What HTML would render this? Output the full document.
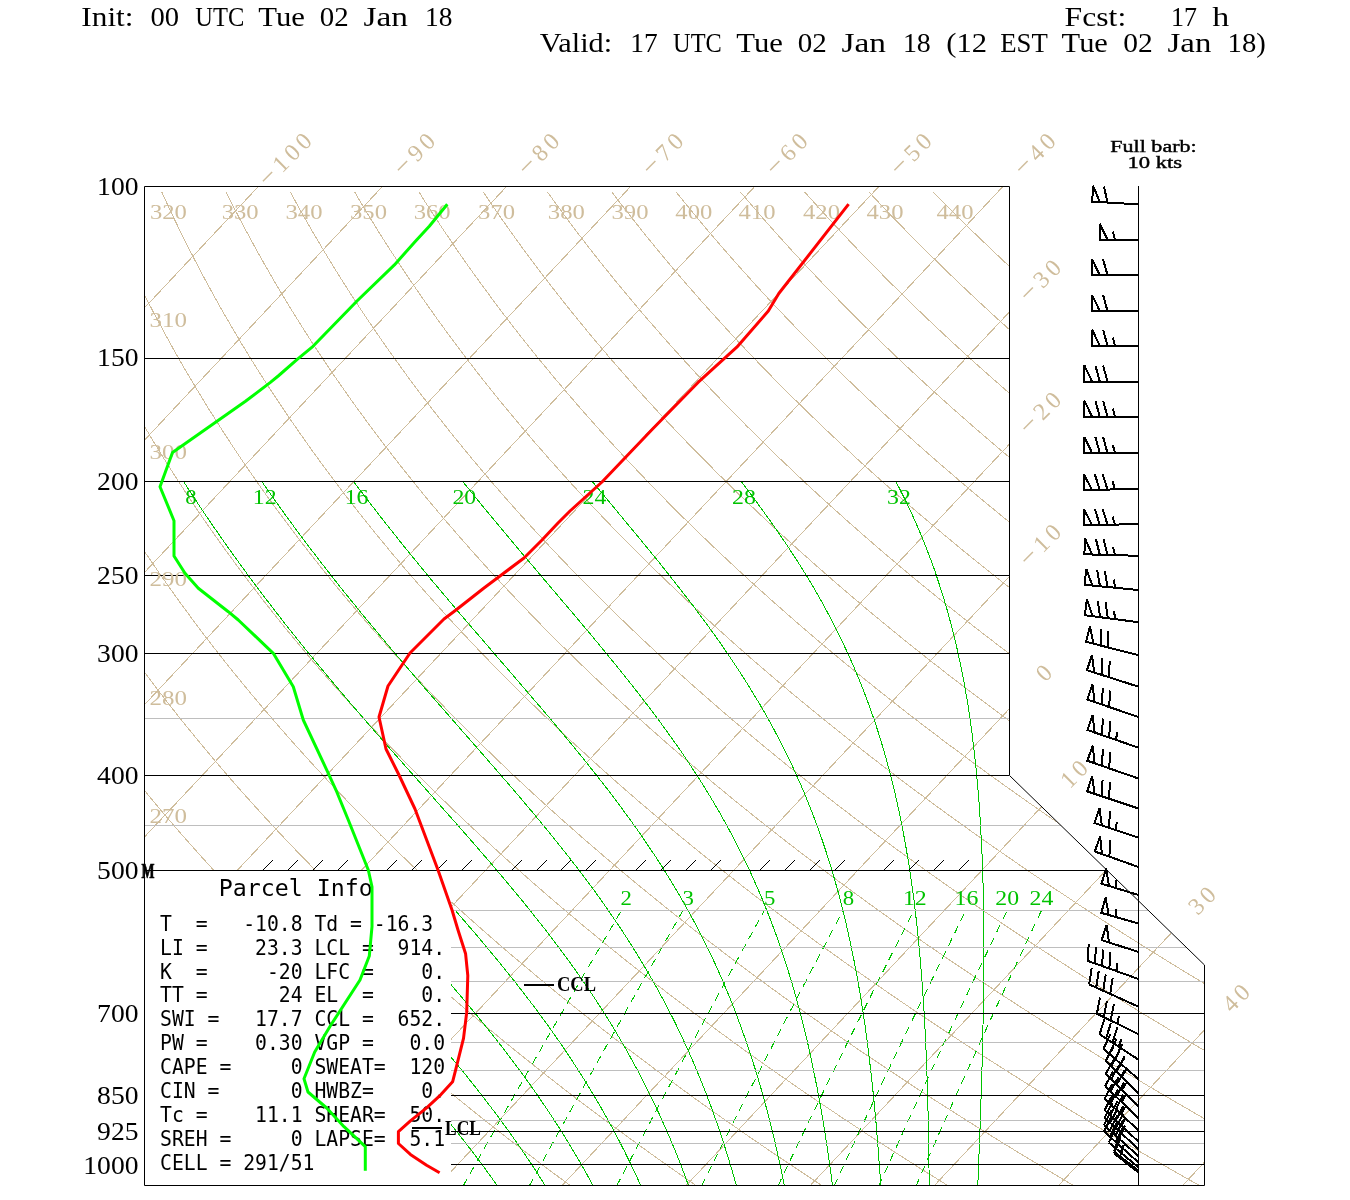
<!DOCTYPE html>
<html><head><meta charset="utf-8"><style>html,body{margin:0;padding:0;background:#fff;}svg{display:block;}</style></head>
<body><svg width="1350" height="1200" viewBox="0 0 1350 1200">
<rect width="1350" height="1200" fill="#fff"/>
<defs><clipPath id="c"><polygon points="144.5,186.5 1009.5,186.5 1009.5,775.5 1204.5,965 1204.5,1185.5 144.5,1185.5"/></clipPath></defs>
<g clip-path="url(#c)" fill="none" shape-rendering="crispEdges">
<g stroke="#cfbd9c" stroke-width="1"><polyline points="-1175.3,1185.5 -203.8,150"/><polyline points="-1051.2,1185.5 -79.7,150"/><polyline points="-927.1,1185.5 44.4,150"/><polyline points="-803,1185.5 168.5,150"/><polyline points="-678.9,1185.5 292.6,150"/><polyline points="-554.8,1185.5 416.7,150"/><polyline points="-430.7,1185.5 540.8,150"/><polyline points="-306.6,1185.5 664.9,150"/><polyline points="-182.5,1185.5 789,150"/><polyline points="-58.4,1185.5 913.1,150"/><polyline points="65.7,1185.5 1037.2,150"/><polyline points="189.8,1185.5 1161.3,150"/><polyline points="313.9,1185.5 1285.4,150"/><polyline points="438,1185.5 1409.5,150"/><polyline points="562.1,1185.5 1533.6,150"/><polyline points="686.2,1185.5 1657.7,150"/><polyline points="810.3,1185.5 1781.8,150"/><polyline points="934.4,1185.5 1905.9,150"/><polyline points="1058.5,1185.5 2030,150"/><polyline points="1182.6,1185.5 2154.1,150"/></g>
<g stroke="#cfbd9c" stroke-width="1"><polyline points="67.3,1186 58.8,1177.6 50.4,1169.3 42.1,1160.9 33.9,1152.6 25.8,1144.2 17.8,1135.9 9.9,1127.5 2.1,1119.2 -5.7,1110.8 -13.3,1102.5 -20.9,1094.1 -28.4,1085.8 -35.8,1077.4 -43.1,1069.1 -50.3,1060.7 -57.5,1052.4 -64.5,1044 -71.5,1035.6 -78.4,1027.3 -85.2,1018.9 -91.9,1010.6 -98.6,1002.2 -105.1,993.9 -111.6,985.5 -118,977.2 -124.3,968.8 -130.6,960.5 -136.7,952.1 -142.8,943.8 -148.8,935.4 -154.7,927.1 -160.6,918.7 -166.4,910.4 -172.1,902 -177.7,893.6 -183.2,885.3 -188.7,876.9 -194.1,868.6 -199.4,860.2 -204.6,851.9 -209.8,843.5 -214.9,835.2 -219.9,826.8 -224.9,818.5 -229.8,810.1 -234.6,801.8 -239.3,793.4 -244,785.1 -248.6,776.7 -253.1,768.4 -257.5,760 -261.9,751.6 -266.3,743.3 -270.5,734.9 -274.7,726.6 -278.8,718.2 -282.8,709.9 -286.8,701.5 -290.7,693.2 -294.6,684.8 -298.4,676.5 -302.1,668.1 -305.7,659.8 -309.3,651.4 -312.8,643.1 -316.3,634.7 -319.7,626.4 -323,618 -326.3,609.6 -329.5,601.3 -332.6,592.9 -335.7,584.6 -338.7,576.2 -341.7,567.9 -344.6,559.5 -347.4,551.2 -350.2,542.8 -352.9,534.5 -355.6,526.1 -358.2,517.8 -360.7,509.4 -363.2,501.1 -365.6,492.7 -368,484.4 -370.3,476 -372.6,467.6 -374.8,459.3 -376.9,450.9 -379,442.6 -381,434.2 -383,425.9 -384.9,417.5 -386.7,409.2 -388.6,400.8 -390.3,392.5 -392,384.1 -393.6,375.8 -395.2,367.4 -396.8,359.1 -398.3,350.7 -399.7,342.4 -401.1,334 -402.4,325.6 -403.7,317.3 -404.9,308.9 -406.1,300.6 -407.2,292.2 -408.3,283.9 -409.3,275.5 -410.3,267.2 -411.2,258.8 -412.1,250.5 -412.9,242.1 -413.7,233.8 -414.4,225.4 -415.1,217.1 -415.7,208.7 -416.3,200.4 -416.8,192"/><polyline points="193.2,1186 184,1177.6 174.9,1169.3 165.9,1160.9 157,1152.6 148.2,1144.2 139.5,1135.9 130.9,1127.5 122.4,1119.2 114,1110.8 105.6,1102.5 97.4,1094.1 89.3,1085.8 81.2,1077.4 73.2,1069.1 65.3,1060.7 57.5,1052.4 49.8,1044 42.2,1035.6 34.7,1027.3 27.2,1018.9 19.9,1010.6 12.6,1002.2 5.4,993.9 -1.7,985.5 -8.7,977.2 -15.6,968.8 -22.5,960.5 -29.2,952.1 -35.9,943.8 -42.5,935.4 -49.1,927.1 -55.5,918.7 -61.9,910.4 -68.2,902 -74.4,893.6 -80.5,885.3 -86.5,876.9 -92.5,868.6 -98.4,860.2 -104.2,851.9 -109.9,843.5 -115.6,835.2 -121.2,826.8 -126.7,818.5 -132.1,810.1 -137.5,801.8 -142.8,793.4 -148,785.1 -153.1,776.7 -158.2,768.4 -163.2,760 -168.1,751.6 -172.9,743.3 -177.7,734.9 -182.4,726.6 -187,718.2 -191.6,709.9 -196.1,701.5 -200.5,693.2 -204.9,684.8 -209.2,676.5 -213.4,668.1 -217.5,659.8 -221.6,651.4 -225.6,643.1 -229.6,634.7 -233.5,626.4 -237.3,618 -241,609.6 -244.7,601.3 -248.3,592.9 -251.9,584.6 -255.4,576.2 -258.8,567.9 -262.2,559.5 -265.5,551.2 -268.7,542.8 -271.9,534.5 -275,526.1 -278.1,517.8 -281,509.4 -284,501.1 -286.9,492.7 -289.7,484.4 -292.4,476 -295.1,467.6 -297.7,459.3 -300.3,450.9 -302.8,442.6 -305.3,434.2 -307.7,425.9 -310,417.5 -312.3,409.2 -314.5,400.8 -316.7,392.5 -318.8,384.1 -320.9,375.8 -322.9,367.4 -324.8,359.1 -326.7,350.7 -328.5,342.4 -330.3,334 -332,325.6 -333.7,317.3 -335.3,308.9 -336.9,300.6 -338.4,292.2 -339.9,283.9 -341.3,275.5 -342.6,267.2 -343.9,258.8 -345.2,250.5 -346.4,242.1 -347.5,233.8 -348.6,225.4 -349.7,217.1 -350.7,208.7 -351.6,200.4 -352.5,192"/><polyline points="319,1186 309.2,1177.6 299.4,1169.3 289.7,1160.9 280.1,1152.6 270.6,1144.2 261.2,1135.9 251.9,1127.5 242.7,1119.2 233.6,1110.8 224.6,1102.5 215.7,1094.1 206.9,1085.8 198.2,1077.4 189.5,1069.1 181,1060.7 172.6,1052.4 164.2,1044 155.9,1035.6 147.8,1027.3 139.7,1018.9 131.7,1010.6 123.8,1002.2 116,993.9 108.3,985.5 100.6,977.2 93.1,968.8 85.6,960.5 78.2,952.1 70.9,943.8 63.7,935.4 56.6,927.1 49.6,918.7 42.6,910.4 35.7,902 29,893.6 22.2,885.3 15.6,876.9 9.1,868.6 2.6,860.2 -3.8,851.9 -10.1,843.5 -16.3,835.2 -22.4,826.8 -28.5,818.5 -34.5,810.1 -40.4,801.8 -46.2,793.4 -52,785.1 -57.6,776.7 -63.2,768.4 -68.8,760 -74.2,751.6 -79.6,743.3 -84.9,734.9 -90.1,726.6 -95.3,718.2 -100.4,709.9 -105.4,701.5 -110.3,693.2 -115.2,684.8 -120,676.5 -124.7,668.1 -129.3,659.8 -133.9,651.4 -138.4,643.1 -142.9,634.7 -147.2,626.4 -151.5,618 -155.8,609.6 -159.9,601.3 -164,592.9 -168.1,584.6 -172,576.2 -175.9,567.9 -179.7,559.5 -183.5,551.2 -187.2,542.8 -190.8,534.5 -194.4,526.1 -197.9,517.8 -201.4,509.4 -204.7,501.1 -208.1,492.7 -211.3,484.4 -214.5,476 -217.6,467.6 -220.7,459.3 -223.7,450.9 -226.7,442.6 -229.5,434.2 -232.4,425.9 -235.1,417.5 -237.8,409.2 -240.5,400.8 -243.1,392.5 -245.6,384.1 -248.1,375.8 -250.5,367.4 -252.8,359.1 -255.1,350.7 -257.4,342.4 -259.5,334 -261.7,325.6 -263.7,317.3 -265.7,308.9 -267.7,300.6 -269.6,292.2 -271.5,283.9 -273.2,275.5 -275,267.2 -276.7,258.8 -278.3,250.5 -279.9,242.1 -281.4,233.8 -282.9,225.4 -284.3,217.1 -285.7,208.7 -287,200.4 -288.2,192"/><polyline points="444.9,1186 434.3,1177.6 423.8,1169.3 413.5,1160.9 403.2,1152.6 393,1144.2 382.9,1135.9 372.9,1127.5 363.1,1119.2 353.3,1110.8 343.6,1102.5 334,1094.1 324.5,1085.8 315.1,1077.4 305.9,1069.1 296.7,1060.7 287.6,1052.4 278.6,1044 269.7,1035.6 260.9,1027.3 252.1,1018.9 243.5,1010.6 235,1002.2 226.5,993.9 218.2,985.5 209.9,977.2 201.8,968.8 193.7,960.5 185.7,952.1 177.8,943.8 170,935.4 162.3,927.1 154.6,918.7 147.1,910.4 139.6,902 132.3,893.6 125,885.3 117.8,876.9 110.7,868.6 103.6,860.2 96.7,851.9 89.8,843.5 83,835.2 76.3,826.8 69.7,818.5 63.2,810.1 56.7,801.8 50.3,793.4 44,785.1 37.8,776.7 31.7,768.4 25.6,760 19.6,751.6 13.7,743.3 7.9,734.9 2.2,726.6 -3.5,718.2 -9.1,709.9 -14.6,701.5 -20.1,693.2 -25.5,684.8 -30.7,676.5 -36,668.1 -41.1,659.8 -46.2,651.4 -51.2,643.1 -56.1,634.7 -61,626.4 -65.8,618 -70.5,609.6 -75.1,601.3 -79.7,592.9 -84.2,584.6 -88.7,576.2 -93,567.9 -97.3,559.5 -101.6,551.2 -105.7,542.8 -109.8,534.5 -113.8,526.1 -117.8,517.8 -121.7,509.4 -125.5,501.1 -129.3,492.7 -133,484.4 -136.6,476 -140.2,467.6 -143.7,459.3 -147.1,450.9 -150.5,442.6 -153.8,434.2 -157.1,425.9 -160.2,417.5 -163.4,409.2 -166.4,400.8 -169.4,392.5 -172.4,384.1 -175.3,375.8 -178.1,367.4 -180.8,359.1 -183.5,350.7 -186.2,342.4 -188.8,334 -191.3,325.6 -193.8,317.3 -196.2,308.9 -198.5,300.6 -200.8,292.2 -203,283.9 -205.2,275.5 -207.3,267.2 -209.4,258.8 -211.4,250.5 -213.4,242.1 -215.3,233.8 -217.1,225.4 -218.9,217.1 -220.6,208.7 -222.3,200.4 -224,192"/><polyline points="570.8,1186 559.5,1177.6 548.3,1169.3 537.2,1160.9 526.2,1152.6 515.4,1144.2 504.6,1135.9 493.9,1127.5 483.4,1119.2 472.9,1110.8 462.6,1102.5 452.3,1094.1 442.2,1085.8 432.1,1077.4 422.2,1069.1 412.3,1060.7 402.6,1052.4 392.9,1044 383.4,1035.6 373.9,1027.3 364.6,1018.9 355.3,1010.6 346.2,1002.2 337.1,993.9 328.1,985.5 319.2,977.2 310.5,968.8 301.8,960.5 293.2,952.1 284.7,943.8 276.3,935.4 267.9,927.1 259.7,918.7 251.6,910.4 243.5,902 235.6,893.6 227.7,885.3 219.9,876.9 212.2,868.6 204.6,860.2 197.1,851.9 189.7,843.5 182.3,835.2 175.1,826.8 167.9,818.5 160.8,810.1 153.8,801.8 146.9,793.4 140,785.1 133.3,776.7 126.6,768.4 120,760 113.5,751.6 107.1,743.3 100.7,734.9 94.4,726.6 88.2,718.2 82.1,709.9 76.1,701.5 70.1,693.2 64.3,684.8 58.5,676.5 52.7,668.1 47.1,659.8 41.5,651.4 36,643.1 30.6,634.7 25.2,626.4 20,618 14.8,609.6 9.6,601.3 4.6,592.9 -0.4,584.6 -5.3,576.2 -10.1,567.9 -14.9,559.5 -19.6,551.2 -24.2,542.8 -28.8,534.5 -33.3,526.1 -37.7,517.8 -42,509.4 -46.3,501.1 -50.5,492.7 -54.6,484.4 -58.7,476 -62.7,467.6 -66.7,459.3 -70.5,450.9 -74.3,442.6 -78.1,434.2 -81.8,425.9 -85.4,417.5 -88.9,409.2 -92.4,400.8 -95.8,392.5 -99.2,384.1 -102.5,375.8 -105.7,367.4 -108.9,359.1 -112,350.7 -115,342.4 -118,334 -120.9,325.6 -123.8,317.3 -126.6,308.9 -129.3,300.6 -132,292.2 -134.6,283.9 -137.2,275.5 -139.7,267.2 -142.1,258.8 -144.5,250.5 -146.9,242.1 -149.1,233.8 -151.4,225.4 -153.5,217.1 -155.6,208.7 -157.7,200.4 -159.7,192"/><polyline points="696.7,1186 684.7,1177.6 672.8,1169.3 661,1160.9 649.3,1152.6 637.8,1144.2 626.3,1135.9 615,1127.5 603.7,1119.2 592.6,1110.8 581.5,1102.5 570.6,1094.1 559.8,1085.8 549.1,1077.4 538.5,1069.1 528,1060.7 517.6,1052.4 507.3,1044 497.1,1035.6 487,1027.3 477,1018.9 467.1,1010.6 457.3,1002.2 447.6,993.9 438.1,985.5 428.6,977.2 419.2,968.8 409.9,960.5 400.7,952.1 391.6,943.8 382.5,935.4 373.6,927.1 364.8,918.7 356.1,910.4 347.4,902 338.9,893.6 330.4,885.3 322.1,876.9 313.8,868.6 305.6,860.2 297.5,851.9 289.5,843.5 281.6,835.2 273.8,826.8 266.1,818.5 258.4,810.1 250.9,801.8 243.4,793.4 236,785.1 228.7,776.7 221.5,768.4 214.4,760 207.3,751.6 200.4,743.3 193.5,734.9 186.7,726.6 180,718.2 173.4,709.9 166.8,701.5 160.4,693.2 154,684.8 147.7,676.5 141.4,668.1 135.3,659.8 129.2,651.4 123.2,643.1 117.3,634.7 111.5,626.4 105.7,618 100,609.6 94.4,601.3 88.9,592.9 83.4,584.6 78.1,576.2 72.8,567.9 67.5,559.5 62.4,551.2 57.3,542.8 52.3,534.5 47.3,526.1 42.5,517.8 37.7,509.4 32.9,501.1 28.3,492.7 23.7,484.4 19.2,476 14.7,467.6 10.4,459.3 6.1,450.9 1.8,442.6 -2.3,434.2 -6.5,425.9 -10.5,417.5 -14.5,409.2 -18.4,400.8 -22.2,392.5 -26,384.1 -29.7,375.8 -33.3,367.4 -36.9,359.1 -40.4,350.7 -43.8,342.4 -47.2,334 -50.5,325.6 -53.8,317.3 -57,308.9 -60.1,300.6 -63.2,292.2 -66.2,283.9 -69.2,275.5 -72.1,267.2 -74.9,258.8 -77.6,250.5 -80.4,242.1 -83,233.8 -85.6,225.4 -88.1,217.1 -90.6,208.7 -93,200.4 -95.4,192"/><polyline points="822.6,1186 809.9,1177.6 797.3,1169.3 784.8,1160.9 772.4,1152.6 760.1,1144.2 748,1135.9 736,1127.5 724,1119.2 712.2,1110.8 700.5,1102.5 688.9,1094.1 677.5,1085.8 666.1,1077.4 654.8,1069.1 643.7,1060.7 632.6,1052.4 621.7,1044 610.8,1035.6 600.1,1027.3 589.5,1018.9 578.9,1010.6 568.5,1002.2 558.2,993.9 548,985.5 537.9,977.2 527.9,968.8 517.9,960.5 508.1,952.1 498.4,943.8 488.8,935.4 479.3,927.1 469.9,918.7 460.6,910.4 451.3,902 442.2,893.6 433.2,885.3 424.2,876.9 415.4,868.6 406.6,860.2 398,851.9 389.4,843.5 380.9,835.2 372.6,826.8 364.3,818.5 356.1,810.1 348,801.8 340,793.4 332,785.1 324.2,776.7 316.4,768.4 308.8,760 301.2,751.6 293.7,743.3 286.3,734.9 279,726.6 271.8,718.2 264.6,709.9 257.6,701.5 250.6,693.2 243.7,684.8 236.9,676.5 230.1,668.1 223.5,659.8 216.9,651.4 210.4,643.1 204,634.7 197.7,626.4 191.5,618 185.3,609.6 179.2,601.3 173.2,592.9 167.3,584.6 161.4,576.2 155.7,567.9 150,559.5 144.3,551.2 138.8,542.8 133.3,534.5 127.9,526.1 122.6,517.8 117.3,509.4 112.2,501.1 107.1,492.7 102,484.4 97.1,476 92.2,467.6 87.4,459.3 82.7,450.9 78,442.6 73.4,434.2 68.9,425.9 64.4,417.5 60,409.2 55.7,400.8 51.4,392.5 47.2,384.1 43.1,375.8 39.1,367.4 35.1,359.1 31.2,350.7 27.3,342.4 23.5,334 19.8,325.6 16.2,317.3 12.6,308.9 9.1,300.6 5.6,292.2 2.2,283.9 -1.1,275.5 -4.4,267.2 -7.6,258.8 -10.8,250.5 -13.8,242.1 -16.9,233.8 -19.8,225.4 -22.7,217.1 -25.6,208.7 -28.4,200.4 -31.1,192"/><polyline points="948.5,1186 935,1177.6 921.7,1169.3 908.5,1160.9 895.5,1152.6 882.5,1144.2 869.7,1135.9 857,1127.5 844.4,1119.2 831.9,1110.8 819.5,1102.5 807.2,1094.1 795.1,1085.8 783.1,1077.4 771.1,1069.1 759.3,1060.7 747.6,1052.4 736,1044 724.5,1035.6 713.2,1027.3 701.9,1018.9 690.8,1010.6 679.7,1002.2 668.8,993.9 657.9,985.5 647.2,977.2 636.6,968.8 626,960.5 615.6,952.1 605.3,943.8 595.1,935.4 585,927.1 575,918.7 565,910.4 555.2,902 545.5,893.6 535.9,885.3 526.4,876.9 517,868.6 507.6,860.2 498.4,851.9 489.3,843.5 480.3,835.2 471.3,826.8 462.5,818.5 453.7,810.1 445.1,801.8 436.5,793.4 428,785.1 419.6,776.7 411.4,768.4 403.2,760 395.1,751.6 387,743.3 379.1,734.9 371.3,726.6 363.5,718.2 355.9,709.9 348.3,701.5 340.8,693.2 333.4,684.8 326.1,676.5 318.8,668.1 311.7,659.8 304.6,651.4 297.7,643.1 290.8,634.7 283.9,626.4 277.2,618 270.6,609.6 264,601.3 257.5,592.9 251.1,584.6 244.8,576.2 238.5,567.9 232.4,559.5 226.3,551.2 220.3,542.8 214.4,534.5 208.5,526.1 202.7,517.8 197,509.4 191.4,501.1 185.9,492.7 180.4,484.4 175,476 169.7,467.6 164.4,459.3 159.2,450.9 154.1,442.6 149.1,434.2 144.2,425.9 139.3,417.5 134.5,409.2 129.7,400.8 125.1,392.5 120.5,384.1 115.9,375.8 111.5,367.4 107.1,359.1 102.8,350.7 98.5,342.4 94.3,334 90.2,325.6 86.1,317.3 82.2,308.9 78.2,300.6 74.4,292.2 70.6,283.9 66.9,275.5 63.2,267.2 59.6,258.8 56.1,250.5 52.7,242.1 49.3,233.8 45.9,225.4 42.7,217.1 39.4,208.7 36.3,200.4 33.2,192"/><polyline points="1074.4,1186 1060.2,1177.6 1046.2,1169.3 1032.3,1160.9 1018.6,1152.6 1004.9,1144.2 991.4,1135.9 978,1127.5 964.7,1119.2 951.5,1110.8 938.5,1102.5 925.5,1094.1 912.7,1085.8 900,1077.4 887.5,1069.1 875,1060.7 862.6,1052.4 850.4,1044 838.3,1035.6 826.3,1027.3 814.4,1018.9 802.6,1010.6 790.9,1002.2 779.3,993.9 767.9,985.5 756.5,977.2 745.3,968.8 734.1,960.5 723.1,952.1 712.2,943.8 701.3,935.4 690.6,927.1 680,918.7 669.5,910.4 659.1,902 648.8,893.6 638.6,885.3 628.5,876.9 618.5,868.6 608.6,860.2 598.9,851.9 589.2,843.5 579.6,835.2 570.1,826.8 560.7,818.5 551.4,810.1 542.2,801.8 533,793.4 524,785.1 515.1,776.7 506.3,768.4 497.6,760 488.9,751.6 480.4,743.3 471.9,734.9 463.6,726.6 455.3,718.2 447.1,709.9 439,701.5 431,693.2 423.1,684.8 415.3,676.5 407.5,668.1 399.9,659.8 392.3,651.4 384.9,643.1 377.5,634.7 370.2,626.4 363,618 355.8,609.6 348.8,601.3 341.8,592.9 334.9,584.6 328.1,576.2 321.4,567.9 314.8,559.5 308.3,551.2 301.8,542.8 295.4,534.5 289.1,526.1 282.9,517.8 276.7,509.4 270.6,501.1 264.6,492.7 258.7,484.4 252.9,476 247.1,467.6 241.4,459.3 235.8,450.9 230.3,442.6 224.8,434.2 219.5,425.9 214.2,417.5 208.9,409.2 203.8,400.8 198.7,392.5 193.7,384.1 188.7,375.8 183.8,367.4 179.1,359.1 174.3,350.7 169.7,342.4 165.1,334 160.6,325.6 156.1,317.3 151.7,308.9 147.4,300.6 143.2,292.2 139,283.9 134.9,275.5 130.9,267.2 126.9,258.8 123,250.5 119.2,242.1 115.4,233.8 111.7,225.4 108,217.1 104.5,208.7 101,200.4 97.5,192"/><polyline points="1200.2,1186 1185.4,1177.6 1170.7,1169.3 1156.1,1160.9 1141.6,1152.6 1127.3,1144.2 1113.1,1135.9 1099,1127.5 1085,1119.2 1071.2,1110.8 1057.4,1102.5 1043.8,1094.1 1030.4,1085.8 1017,1077.4 1003.8,1069.1 990.6,1060.7 977.6,1052.4 964.8,1044 952,1035.6 939.3,1027.3 926.8,1018.9 914.4,1010.6 902.1,1002.2 889.9,993.9 877.8,985.5 865.8,977.2 854,968.8 842.2,960.5 830.6,952.1 819,943.8 807.6,935.4 796.3,927.1 785.1,918.7 774,910.4 763,902 752.1,893.6 741.4,885.3 730.7,876.9 720.1,868.6 709.6,860.2 699.3,851.9 689,843.5 678.9,835.2 668.8,826.8 658.9,818.5 649,810.1 639.2,801.8 629.6,793.4 620,785.1 610.6,776.7 601.2,768.4 591.9,760 582.8,751.6 573.7,743.3 564.7,734.9 555.8,726.6 547,718.2 538.3,709.9 529.7,701.5 521.2,693.2 512.8,684.8 504.5,676.5 496.2,668.1 488.1,659.8 480,651.4 472.1,643.1 464.2,634.7 456.4,626.4 448.7,618 441.1,609.6 433.6,601.3 426.1,592.9 418.8,584.6 411.5,576.2 404.3,567.9 397.2,559.5 390.2,551.2 383.3,542.8 376.4,534.5 369.7,526.1 363,517.8 356.4,509.4 349.9,501.1 343.4,492.7 337.1,484.4 330.8,476 324.6,467.6 318.5,459.3 312.4,450.9 306.5,442.6 300.6,434.2 294.8,425.9 289,417.5 283.4,409.2 277.8,400.8 272.3,392.5 266.9,384.1 261.5,375.8 256.2,367.4 251,359.1 245.9,350.7 240.8,342.4 235.9,334 230.9,325.6 226.1,317.3 221.3,308.9 216.6,300.6 212,292.2 207.4,283.9 202.9,275.5 198.5,267.2 194.2,258.8 189.9,250.5 185.7,242.1 181.5,233.8 177.4,225.4 173.4,217.1 169.5,208.7 165.6,200.4 161.8,192"/><polyline points="1326.1,1186 1310.6,1177.6 1295.2,1169.3 1279.9,1160.9 1264.7,1152.6 1249.7,1144.2 1234.8,1135.9 1220,1127.5 1205.3,1119.2 1190.8,1110.8 1176.4,1102.5 1162.2,1094.1 1148,1085.8 1134,1077.4 1120.1,1069.1 1106.3,1060.7 1092.7,1052.4 1079.1,1044 1065.7,1035.6 1052.4,1027.3 1039.2,1018.9 1026.2,1010.6 1013.2,1002.2 1000.4,993.9 987.7,985.5 975.1,977.2 962.7,968.8 950.3,960.5 938,952.1 925.9,943.8 913.9,935.4 902,927.1 890.2,918.7 878.5,910.4 866.9,902 855.4,893.6 844.1,885.3 832.8,876.9 821.7,868.6 810.7,860.2 799.7,851.9 788.9,843.5 778.2,835.2 767.6,826.8 757,818.5 746.6,810.1 736.3,801.8 726.1,793.4 716,785.1 706,776.7 696.1,768.4 686.3,760 676.6,751.6 667,743.3 657.5,734.9 648.1,726.6 638.8,718.2 629.6,709.9 620.5,701.5 611.4,693.2 602.5,684.8 593.7,676.5 584.9,668.1 576.3,659.8 567.8,651.4 559.3,643.1 550.9,634.7 542.6,626.4 534.5,618 526.4,609.6 518.4,601.3 510.4,592.9 502.6,584.6 494.9,576.2 487.2,567.9 479.7,559.5 472.2,551.2 464.8,542.8 457.5,534.5 450.3,526.1 443.1,517.8 436.1,509.4 429.1,501.1 422.2,492.7 415.4,484.4 408.7,476 402,467.6 395.5,459.3 389,450.9 382.6,442.6 376.3,434.2 370.1,425.9 363.9,417.5 357.8,409.2 351.8,400.8 345.9,392.5 340.1,384.1 334.3,375.8 328.6,367.4 323,359.1 317.5,350.7 312,342.4 306.6,334 301.3,325.6 296.1,317.3 290.9,308.9 285.8,300.6 280.8,292.2 275.8,283.9 271,275.5 266.2,267.2 261.4,258.8 256.8,250.5 252.2,242.1 247.7,233.8 243.2,225.4 238.8,217.1 234.5,208.7 230.3,200.4 226.1,192"/><polyline points="1452,1186 1435.8,1177.6 1419.6,1169.3 1403.6,1160.9 1387.8,1152.6 1372.1,1144.2 1356.5,1135.9 1341,1127.5 1325.7,1119.2 1310.5,1110.8 1295.4,1102.5 1280.5,1094.1 1265.6,1085.8 1251,1077.4 1236.4,1069.1 1222,1060.7 1207.7,1052.4 1193.5,1044 1179.4,1035.6 1165.5,1027.3 1151.7,1018.9 1138,1010.6 1124.4,1002.2 1111,993.9 1097.6,985.5 1084.4,977.2 1071.3,968.8 1058.4,960.5 1045.5,952.1 1032.8,943.8 1020.2,935.4 1007.7,927.1 995.3,918.7 983,910.4 970.8,902 958.8,893.6 946.8,885.3 935,876.9 923.3,868.6 911.7,860.2 900.2,851.9 888.8,843.5 877.5,835.2 866.3,826.8 855.2,818.5 844.3,810.1 833.4,801.8 822.7,793.4 812,785.1 801.5,776.7 791,768.4 780.7,760 770.5,751.6 760.3,743.3 750.3,734.9 740.4,726.6 730.6,718.2 720.8,709.9 711.2,701.5 701.7,693.2 692.2,684.8 682.9,676.5 673.7,668.1 664.5,659.8 655.5,651.4 646.5,643.1 637.6,634.7 628.9,626.4 620.2,618 611.6,609.6 603.1,601.3 594.7,592.9 586.4,584.6 578.2,576.2 570.1,567.9 562.1,559.5 554.1,551.2 546.3,542.8 538.5,534.5 530.8,526.1 523.2,517.8 515.7,509.4 508.3,501.1 501,492.7 493.7,484.4 486.6,476 479.5,467.6 472.5,459.3 465.6,450.9 458.8,442.6 452,434.2 445.4,425.9 438.8,417.5 432.3,409.2 425.9,400.8 419.5,392.5 413.3,384.1 407.1,375.8 401,367.4 395,359.1 389,350.7 383.2,342.4 377.4,334 371.7,325.6 366,317.3 360.5,308.9 355,300.6 349.6,292.2 344.3,283.9 339,275.5 333.8,267.2 328.7,258.8 323.7,250.5 318.7,242.1 313.8,233.8 309,225.4 304.2,217.1 299.5,208.7 294.9,200.4 290.4,192"/><polyline points="1577.9,1186 1560.9,1177.6 1544.1,1169.3 1527.4,1160.9 1510.9,1152.6 1494.4,1144.2 1478.2,1135.9 1462,1127.5 1446,1119.2 1430.1,1110.8 1414.4,1102.5 1398.8,1094.1 1383.3,1085.8 1367.9,1077.4 1352.7,1069.1 1337.6,1060.7 1322.7,1052.4 1307.9,1044 1293.1,1035.6 1278.6,1027.3 1264.1,1018.9 1249.8,1010.6 1235.6,1002.2 1221.5,993.9 1207.6,985.5 1193.8,977.2 1180,968.8 1166.5,960.5 1153,952.1 1139.7,943.8 1126.4,935.4 1113.3,927.1 1100.3,918.7 1087.5,910.4 1074.7,902 1062.1,893.6 1049.5,885.3 1037.1,876.9 1024.8,868.6 1012.7,860.2 1000.6,851.9 988.6,843.5 976.8,835.2 965.1,826.8 953.4,818.5 941.9,810.1 930.5,801.8 919.2,793.4 908,785.1 896.9,776.7 886,768.4 875.1,760 864.3,751.6 853.7,743.3 843.1,734.9 832.7,726.6 822.3,718.2 812.1,709.9 801.9,701.5 791.9,693.2 781.9,684.8 772.1,676.5 762.4,668.1 752.7,659.8 743.2,651.4 733.7,643.1 724.4,634.7 715.1,626.4 706,618 696.9,609.6 687.9,601.3 679.1,592.9 670.3,584.6 661.6,576.2 653,567.9 644.5,559.5 636.1,551.2 627.8,542.8 619.6,534.5 611.4,526.1 603.4,517.8 595.4,509.4 587.6,501.1 579.8,492.7 572.1,484.4 564.5,476 557,467.6 549.5,459.3 542.2,450.9 534.9,442.6 527.8,434.2 520.7,425.9 513.7,417.5 506.8,409.2 499.9,400.8 493.2,392.5 486.5,384.1 479.9,375.8 473.4,367.4 467,359.1 460.6,350.7 454.3,342.4 448.2,334 442,325.6 436,317.3 430.1,308.9 424.2,300.6 418.4,292.2 412.7,283.9 407,275.5 401.5,267.2 396,258.8 390.5,250.5 385.2,242.1 379.9,233.8 374.7,225.4 369.6,217.1 364.6,208.7 359.6,200.4 354.7,192"/><polyline points="1703.8,1186 1686.1,1177.6 1668.6,1169.3 1651.2,1160.9 1633.9,1152.6 1616.8,1144.2 1599.8,1135.9 1583,1127.5 1566.3,1119.2 1549.8,1110.8 1533.4,1102.5 1517.1,1094.1 1500.9,1085.8 1484.9,1077.4 1469,1069.1 1453.3,1060.7 1437.7,1052.4 1422.2,1044 1406.9,1035.6 1391.7,1027.3 1376.6,1018.9 1361.6,1010.6 1346.8,1002.2 1332.1,993.9 1317.5,985.5 1303.1,977.2 1288.7,968.8 1274.5,960.5 1260.5,952.1 1246.5,943.8 1232.7,935.4 1219,927.1 1205.4,918.7 1191.9,910.4 1178.6,902 1165.4,893.6 1152.3,885.3 1139.3,876.9 1126.4,868.6 1113.7,860.2 1101,851.9 1088.5,843.5 1076.1,835.2 1063.8,826.8 1051.6,818.5 1039.6,810.1 1027.6,801.8 1015.8,793.4 1004,785.1 992.4,776.7 980.9,768.4 969.5,760 958.2,751.6 947,743.3 935.9,734.9 924.9,726.6 914.1,718.2 903.3,709.9 892.7,701.5 882.1,693.2 871.7,684.8 861.3,676.5 851.1,668.1 840.9,659.8 830.9,651.4 820.9,643.1 811.1,634.7 801.3,626.4 791.7,618 782.2,609.6 772.7,601.3 763.4,592.9 754.1,584.6 745,576.2 735.9,567.9 726.9,559.5 718.1,551.2 709.3,542.8 700.6,534.5 692,526.1 683.5,517.8 675.1,509.4 666.8,501.1 658.6,492.7 650.4,484.4 642.4,476 634.4,467.6 626.6,459.3 618.8,450.9 611.1,442.6 603.5,434.2 596,425.9 588.6,417.5 581.2,409.2 574,400.8 566.8,392.5 559.7,384.1 552.7,375.8 545.8,367.4 538.9,359.1 532.2,350.7 525.5,342.4 518.9,334 512.4,325.6 506,317.3 499.6,308.9 493.4,300.6 487.2,292.2 481.1,283.9 475,275.5 469.1,267.2 463.2,258.8 457.4,250.5 451.7,242.1 446.1,233.8 440.5,225.4 435,217.1 429.6,208.7 424.2,200.4 419,192"/><polyline points="1829.7,1186 1811.3,1177.6 1793,1169.3 1775,1160.9 1757,1152.6 1739.2,1144.2 1721.5,1135.9 1704,1127.5 1686.6,1119.2 1669.4,1110.8 1652.3,1102.5 1635.4,1094.1 1618.6,1085.8 1601.9,1077.4 1585.4,1069.1 1569,1060.7 1552.7,1052.4 1536.6,1044 1520.6,1035.6 1504.7,1027.3 1489,1018.9 1473.4,1010.6 1458,1002.2 1442.6,993.9 1427.4,985.5 1412.4,977.2 1397.4,968.8 1382.6,960.5 1368,952.1 1353.4,943.8 1339,935.4 1324.7,927.1 1310.5,918.7 1296.4,910.4 1282.5,902 1268.7,893.6 1255,885.3 1241.4,876.9 1228,868.6 1214.7,860.2 1201.5,851.9 1188.4,843.5 1175.4,835.2 1162.6,826.8 1149.8,818.5 1137.2,810.1 1124.7,801.8 1112.3,793.4 1100,785.1 1087.9,776.7 1075.8,768.4 1063.9,760 1052,751.6 1040.3,743.3 1028.7,734.9 1017.2,726.6 1005.8,718.2 994.6,709.9 983.4,701.5 972.3,693.2 961.4,684.8 950.5,676.5 939.8,668.1 929.1,659.8 918.6,651.4 908.1,643.1 897.8,634.7 887.6,626.4 877.5,618 867.4,609.6 857.5,601.3 847.7,592.9 837.9,584.6 828.3,576.2 818.8,567.9 809.4,559.5 800,551.2 790.8,542.8 781.6,534.5 772.6,526.1 763.6,517.8 754.8,509.4 746,501.1 737.3,492.7 728.8,484.4 720.3,476 711.9,467.6 703.6,459.3 695.4,450.9 687.3,442.6 679.2,434.2 671.3,425.9 663.4,417.5 655.7,409.2 648,400.8 640.4,392.5 632.9,384.1 625.5,375.8 618.2,367.4 610.9,359.1 603.8,350.7 596.7,342.4 589.7,334 582.8,325.6 576,317.3 569.2,308.9 562.6,300.6 556,292.2 549.5,283.9 543.1,275.5 536.7,267.2 530.5,258.8 524.3,250.5 518.2,242.1 512.2,233.8 506.3,225.4 500.4,217.1 494.6,208.7 488.9,200.4 483.3,192"/><polyline points="1955.6,1186 1936.5,1177.6 1917.5,1169.3 1898.7,1160.9 1880.1,1152.6 1861.6,1144.2 1843.2,1135.9 1825,1127.5 1807,1119.2 1789.1,1110.8 1771.3,1102.5 1753.7,1094.1 1736.2,1085.8 1718.9,1077.4 1701.7,1069.1 1684.6,1060.7 1667.7,1052.4 1650.9,1044 1634.3,1035.6 1617.8,1027.3 1601.5,1018.9 1585.2,1010.6 1569.1,1002.2 1553.2,993.9 1537.4,985.5 1521.7,977.2 1506.1,968.8 1490.7,960.5 1475.4,952.1 1460.3,943.8 1445.2,935.4 1430.3,927.1 1415.6,918.7 1400.9,910.4 1386.4,902 1372,893.6 1357.7,885.3 1343.6,876.9 1329.6,868.6 1315.7,860.2 1301.9,851.9 1288.2,843.5 1274.7,835.2 1261.3,826.8 1248,818.5 1234.8,810.1 1221.8,801.8 1208.8,793.4 1196,785.1 1183.3,776.7 1170.7,768.4 1158.3,760 1145.9,751.6 1133.7,743.3 1121.5,734.9 1109.5,726.6 1097.6,718.2 1085.8,709.9 1074.1,701.5 1062.5,693.2 1051.1,684.8 1039.7,676.5 1028.5,668.1 1017.3,659.8 1006.3,651.4 995.4,643.1 984.5,634.7 973.8,626.4 963.2,618 952.7,609.6 942.3,601.3 932,592.9 921.8,584.6 911.7,576.2 901.7,567.9 891.8,559.5 882,551.2 872.3,542.8 862.7,534.5 853.2,526.1 843.8,517.8 834.5,509.4 825.2,501.1 816.1,492.7 807.1,484.4 798.2,476 789.4,467.6 780.6,459.3 772,450.9 763.4,442.6 755,434.2 746.6,425.9 738.3,417.5 730.1,409.2 722,400.8 714,392.5 706.1,384.1 698.3,375.8 690.6,367.4 682.9,359.1 675.3,350.7 667.9,342.4 660.5,334 653.2,325.6 645.9,317.3 638.8,308.9 631.8,300.6 624.8,292.2 617.9,283.9 611.1,275.5 604.4,267.2 597.7,258.8 591.2,250.5 584.7,242.1 578.3,233.8 572,225.4 565.8,217.1 559.6,208.7 553.5,200.4 547.5,192"/><polyline points="2081.5,1186 2061.6,1177.6 2042,1169.3 2022.5,1160.9 2003.2,1152.6 1984,1144.2 1964.9,1135.9 1946,1127.5 1927.3,1119.2 1908.7,1110.8 1890.3,1102.5 1872,1094.1 1853.8,1085.8 1835.8,1077.4 1818,1069.1 1800.3,1060.7 1782.7,1052.4 1765.3,1044 1748,1035.6 1730.9,1027.3 1713.9,1018.9 1697,1010.6 1680.3,1002.2 1663.8,993.9 1647.3,985.5 1631,977.2 1614.8,968.8 1598.8,960.5 1582.9,952.1 1567.1,943.8 1551.5,935.4 1536,927.1 1520.6,918.7 1505.4,910.4 1490.3,902 1475.3,893.6 1460.5,885.3 1445.7,876.9 1431.1,868.6 1416.7,860.2 1402.3,851.9 1388.1,843.5 1374,835.2 1360.1,826.8 1346.2,818.5 1332.5,810.1 1318.9,801.8 1305.4,793.4 1292,785.1 1278.8,776.7 1265.7,768.4 1252.6,760 1239.8,751.6 1227,743.3 1214.3,734.9 1201.8,726.6 1189.4,718.2 1177,709.9 1164.8,701.5 1152.8,693.2 1140.8,684.8 1128.9,676.5 1117.2,668.1 1105.5,659.8 1094,651.4 1082.6,643.1 1071.3,634.7 1060,626.4 1048.9,618 1038,609.6 1027.1,601.3 1016.3,592.9 1005.6,584.6 995,576.2 984.6,567.9 974.2,559.5 963.9,551.2 953.8,542.8 943.7,534.5 933.8,526.1 923.9,517.8 914.1,509.4 904.5,501.1 894.9,492.7 885.5,484.4 876.1,476 866.8,467.6 857.6,459.3 848.6,450.9 839.6,442.6 830.7,434.2 821.9,425.9 813.2,417.5 804.6,409.2 796.1,400.8 787.7,392.5 779.3,384.1 771.1,375.8 762.9,367.4 754.9,359.1 746.9,350.7 739,342.4 731.2,334 723.5,325.6 715.9,317.3 708.4,308.9 700.9,300.6 693.6,292.2 686.3,283.9 679.1,275.5 672,267.2 665,258.8 658.1,250.5 651.2,242.1 644.5,233.8 637.8,225.4 631.2,217.1 624.6,208.7 618.2,200.4 611.8,192"/><polyline points="2207.3,1186 2186.8,1177.6 2166.5,1169.3 2146.3,1160.9 2126.2,1152.6 2106.3,1144.2 2086.6,1135.9 2067,1127.5 2047.6,1119.2 2028.4,1110.8 2009.3,1102.5 1990.3,1094.1 1971.5,1085.8 1952.8,1077.4 1934.3,1069.1 1916,1060.7 1897.7,1052.4 1879.7,1044 1861.8,1035.6 1844,1027.3 1826.3,1018.9 1808.9,1010.6 1791.5,1002.2 1774.3,993.9 1757.2,985.5 1740.3,977.2 1723.5,968.8 1706.9,960.5 1690.4,952.1 1674,943.8 1657.8,935.4 1641.7,927.1 1625.7,918.7 1609.9,910.4 1594.2,902 1578.6,893.6 1563.2,885.3 1547.9,876.9 1532.7,868.6 1517.7,860.2 1502.8,851.9 1488,843.5 1473.3,835.2 1458.8,826.8 1444.4,818.5 1430.1,810.1 1416,801.8 1401.9,793.4 1388,785.1 1374.2,776.7 1360.6,768.4 1347,760 1333.6,751.6 1320.3,743.3 1307.1,734.9 1294.1,726.6 1281.1,718.2 1268.3,709.9 1255.6,701.5 1243,693.2 1230.5,684.8 1218.1,676.5 1205.9,668.1 1193.7,659.8 1181.7,651.4 1169.8,643.1 1158,634.7 1146.3,626.4 1134.7,618 1123.2,609.6 1111.9,601.3 1100.6,592.9 1089.4,584.6 1078.4,576.2 1067.5,567.9 1056.6,559.5 1045.9,551.2 1035.3,542.8 1024.8,534.5 1014.3,526.1 1004,517.8 993.8,509.4 983.7,501.1 973.7,492.7 963.8,484.4 954,476 944.3,467.6 934.7,459.3 925.2,450.9 915.7,442.6 906.4,434.2 897.2,425.9 888.1,417.5 879.1,409.2 870.1,400.8 861.3,392.5 852.5,384.1 843.9,375.8 835.3,367.4 826.9,359.1 818.5,350.7 810.2,342.4 802,334 793.9,325.6 785.9,317.3 778,308.9 770.1,300.6 762.4,292.2 754.7,283.9 747.2,275.5 739.7,267.2 732.3,258.8 725,250.5 717.7,242.1 710.6,233.8 703.5,225.4 696.6,217.1 689.7,208.7 682.9,200.4 676.1,192"/><polyline points="2333.2,1186 2312,1177.6 2290.9,1169.3 2270,1160.9 2249.3,1152.6 2228.7,1144.2 2208.3,1135.9 2188.1,1127.5 2168,1119.2 2148,1110.8 2128.2,1102.5 2108.6,1094.1 2089.1,1085.8 2069.8,1077.4 2050.6,1069.1 2031.6,1060.7 2012.8,1052.4 1994,1044 1975.5,1035.6 1957.1,1027.3 1938.8,1018.9 1920.7,1010.6 1902.7,1002.2 1884.9,993.9 1867.2,985.5 1849.6,977.2 1832.2,968.8 1815,960.5 1797.9,952.1 1780.9,943.8 1764,935.4 1747.4,927.1 1730.8,918.7 1714.4,910.4 1698.1,902 1681.9,893.6 1665.9,885.3 1650,876.9 1634.3,868.6 1618.7,860.2 1603.2,851.9 1587.9,843.5 1572.6,835.2 1557.6,826.8 1542.6,818.5 1527.8,810.1 1513.1,801.8 1498.5,793.4 1484,785.1 1469.7,776.7 1455.5,768.4 1441.4,760 1427.5,751.6 1413.6,743.3 1399.9,734.9 1386.3,726.6 1372.9,718.2 1359.5,709.9 1346.3,701.5 1333.2,693.2 1320.2,684.8 1307.3,676.5 1294.6,668.1 1281.9,659.8 1269.4,651.4 1257,643.1 1244.7,634.7 1232.5,626.4 1220.4,618 1208.5,609.6 1196.6,601.3 1184.9,592.9 1173.3,584.6 1161.8,576.2 1150.3,567.9 1139,559.5 1127.9,551.2 1116.8,542.8 1105.8,534.5 1094.9,526.1 1084.2,517.8 1073.5,509.4 1062.9,501.1 1052.5,492.7 1042.1,484.4 1031.9,476 1021.7,467.6 1011.7,459.3 1001.7,450.9 991.9,442.6 982.2,434.2 972.5,425.9 963,417.5 953.5,409.2 944.2,400.8 934.9,392.5 925.7,384.1 916.7,375.8 907.7,367.4 898.8,359.1 890.1,350.7 881.4,342.4 872.8,334 864.3,325.6 855.9,317.3 847.5,308.9 839.3,300.6 831.2,292.2 823.1,283.9 815.2,275.5 807.3,267.2 799.5,258.8 791.8,250.5 784.2,242.1 776.7,233.8 769.3,225.4 761.9,217.1 754.7,208.7 747.5,200.4 740.4,192"/><polyline points="2459.1,1186 2437.2,1177.6 2415.4,1169.3 2393.8,1160.9 2372.4,1152.6 2351.1,1144.2 2330,1135.9 2309.1,1127.5 2288.3,1119.2 2267.7,1110.8 2247.2,1102.5 2226.9,1094.1 2206.8,1085.8 2186.8,1077.4 2167,1069.1 2147.3,1060.7 2127.8,1052.4 2108.4,1044 2089.2,1035.6 2070.1,1027.3 2051.2,1018.9 2032.5,1010.6 2013.9,1002.2 1995.4,993.9 1977.1,985.5 1958.9,977.2 1940.9,968.8 1923.1,960.5 1905.3,952.1 1887.8,943.8 1870.3,935.4 1853,927.1 1835.9,918.7 1818.9,910.4 1802,902 1785.3,893.6 1768.7,885.3 1752.2,876.9 1735.9,868.6 1719.7,860.2 1703.6,851.9 1687.7,843.5 1671.9,835.2 1656.3,826.8 1640.8,818.5 1625.4,810.1 1610.1,801.8 1595,793.4 1580,785.1 1565.2,776.7 1550.4,768.4 1535.8,760 1521.3,751.6 1507,743.3 1492.7,734.9 1478.6,726.6 1464.6,718.2 1450.8,709.9 1437,701.5 1423.4,693.2 1409.9,684.8 1396.5,676.5 1383.3,668.1 1370.1,659.8 1357.1,651.4 1344.2,643.1 1331.4,634.7 1318.7,626.4 1306.2,618 1293.7,609.6 1281.4,601.3 1269.2,592.9 1257.1,584.6 1245.1,576.2 1233.2,567.9 1221.5,559.5 1209.8,551.2 1198.3,542.8 1186.8,534.5 1175.5,526.1 1164.3,517.8 1153.2,509.4 1142.2,501.1 1131.3,492.7 1120.5,484.4 1109.8,476 1099.2,467.6 1088.7,459.3 1078.3,450.9 1068.1,442.6 1057.9,434.2 1047.8,425.9 1037.8,417.5 1028,409.2 1018.2,400.8 1008.5,392.5 999,384.1 989.5,375.8 980.1,367.4 970.8,359.1 961.6,350.7 952.5,342.4 943.5,334 934.6,325.6 925.8,317.3 917.1,308.9 908.5,300.6 900,292.2 891.6,283.9 883.2,275.5 875,267.2 866.8,258.8 858.7,250.5 850.7,242.1 842.9,233.8 835.1,225.4 827.3,217.1 819.7,208.7 812.2,200.4 804.7,192"/><polyline points="2585,1186 2562.4,1177.6 2539.9,1169.3 2517.6,1160.9 2495.5,1152.6 2473.5,1144.2 2451.7,1135.9 2430.1,1127.5 2408.6,1119.2 2387.3,1110.8 2366.2,1102.5 2345.2,1094.1 2324.4,1085.8 2303.8,1077.4 2283.3,1069.1 2262.9,1060.7 2242.8,1052.4 2222.8,1044 2202.9,1035.6 2183.2,1027.3 2163.7,1018.9 2144.3,1010.6 2125.1,1002.2 2106,993.9 2087,985.5 2068.3,977.2 2049.6,968.8 2031.1,960.5 2012.8,952.1 1994.6,943.8 1976.6,935.4 1958.7,927.1 1940.9,918.7 1923.3,910.4 1905.9,902 1888.6,893.6 1871.4,885.3 1854.4,876.9 1837.5,868.6 1820.7,860.2 1804.1,851.9 1787.6,843.5 1771.3,835.2 1755,826.8 1739,818.5 1723,810.1 1707.2,801.8 1691.6,793.4 1676,785.1 1660.6,776.7 1645.3,768.4 1630.2,760 1615.2,751.6 1600.3,743.3 1585.5,734.9 1570.9,726.6 1556.4,718.2 1542,709.9 1527.8,701.5 1513.6,693.2 1499.6,684.8 1485.7,676.5 1472,668.1 1458.3,659.8 1444.8,651.4 1431.4,643.1 1418.1,634.7 1405,626.4 1391.9,618 1379,609.6 1366.2,601.3 1353.5,592.9 1340.9,584.6 1328.5,576.2 1316.1,567.9 1303.9,559.5 1291.8,551.2 1279.8,542.8 1267.9,534.5 1256.1,526.1 1244.4,517.8 1232.9,509.4 1221.4,501.1 1210.1,492.7 1198.8,484.4 1187.7,476 1176.7,467.6 1165.7,459.3 1154.9,450.9 1144.2,442.6 1133.6,434.2 1123.1,425.9 1112.7,417.5 1102.4,409.2 1092.2,400.8 1082.1,392.5 1072.2,384.1 1062.3,375.8 1052.5,367.4 1042.8,359.1 1033.2,350.7 1023.7,342.4 1014.3,334 1005,325.6 995.8,317.3 986.7,308.9 977.7,300.6 968.8,292.2 960,283.9 951.2,275.5 942.6,267.2 934.1,258.8 925.6,250.5 917.3,242.1 909,233.8 900.8,225.4 892.7,217.1 884.7,208.7 876.8,200.4 869,192"/><polyline points="2710.9,1186 2687.5,1177.6 2664.4,1169.3 2641.4,1160.9 2618.5,1152.6 2595.9,1144.2 2573.4,1135.9 2551.1,1127.5 2528.9,1119.2 2507,1110.8 2485.2,1102.5 2463.5,1094.1 2442,1085.8 2420.7,1077.4 2399.6,1069.1 2378.6,1060.7 2357.8,1052.4 2337.1,1044 2316.6,1035.6 2296.3,1027.3 2276.1,1018.9 2256.1,1010.6 2236.2,1002.2 2216.5,993.9 2197,985.5 2177.6,977.2 2158.3,968.8 2139.2,960.5 2120.3,952.1 2101.5,943.8 2082.9,935.4 2064.4,927.1 2046,918.7 2027.8,910.4 2009.8,902 1991.9,893.6 1974.1,885.3 1956.5,876.9 1939,868.6 1921.7,860.2 1904.5,851.9 1887.5,843.5 1870.6,835.2 1853.8,826.8 1837.2,818.5 1820.7,810.1 1804.3,801.8 1788.1,793.4 1772,785.1 1756.1,776.7 1740.3,768.4 1724.6,760 1709,751.6 1693.6,743.3 1678.3,734.9 1663.2,726.6 1648.2,718.2 1633.3,709.9 1618.5,701.5 1603.8,693.2 1589.3,684.8 1574.9,676.5 1560.7,668.1 1546.5,659.8 1532.5,651.4 1518.6,643.1 1504.9,634.7 1491.2,626.4 1477.7,618 1464.3,609.6 1451,601.3 1437.8,592.9 1424.8,584.6 1411.8,576.2 1399,567.9 1386.3,559.5 1373.7,551.2 1361.3,542.8 1348.9,534.5 1336.7,526.1 1324.5,517.8 1312.5,509.4 1300.6,501.1 1288.8,492.7 1277.2,484.4 1265.6,476 1254.1,467.6 1242.8,459.3 1231.5,450.9 1220.4,442.6 1209.3,434.2 1198.4,425.9 1187.6,417.5 1176.9,409.2 1166.3,400.8 1155.8,392.5 1145.4,384.1 1135.1,375.8 1124.9,367.4 1114.8,359.1 1104.8,350.7 1094.9,342.4 1085.1,334 1075.4,325.6 1065.8,317.3 1056.3,308.9 1046.9,300.6 1037.6,292.2 1028.4,283.9 1019.3,275.5 1010.2,267.2 1001.3,258.8 992.5,250.5 983.8,242.1 975.1,233.8 966.6,225.4 958.1,217.1 949.8,208.7 941.5,200.4 933.3,192"/></g>
<g stroke="#00c300" stroke-width="1"><polyline points="401,1186 398.1,1182.5 395.1,1179 392.1,1175.5 389.1,1172 386.1,1168.5 383.1,1165 380.1,1161.6 377,1158.1 374,1154.6 370.9,1151.1 367.8,1147.6 364.7,1144.1 361.6,1140.6 358.4,1137.1 355.3,1133.6 352.1,1130.1 349,1126.6 345.8,1123.1 342.6,1119.6 339.4,1116.2 336.2,1112.7 333,1109.2 329.8,1105.7 326.6,1102.2 323.3,1098.7 320.1,1095.2 316.9,1091.7 313.6,1088.2 310.3,1084.7 307.1,1081.2 303.8,1077.7 300.5,1074.2 297.3,1070.8 294,1067.3 290.7,1063.8 287.4,1060.3 284.2,1056.8 280.9,1053.3 277.6,1049.8 274.3,1046.3 271,1042.8 267.7,1039.3 264.5,1035.8 261.2,1032.3 257.9,1028.8 254.6,1025.3 251.4,1021.9 248.1,1018.4 244.8,1014.9 241.6,1011.4 238.3,1007.9 235.1,1004.4 231.8,1000.9 228.6,997.4 225.3,993.9 222.1,990.4 218.9,986.9 215.6,983.4 212.4,979.9 209.2,976.5 206,973 202.8,969.5 199.6,966 196.5,962.5 193.3,959 190.1,955.5 187,952 183.8,948.5 180.7,945 177.6,941.5 174.5,938 171.4,934.5 168.3,931.1 165.2,927.6 162.1,924.1 159.1,920.6 156,917.1 153,913.6 149.9,910.1"/><polyline points="449.4,1186 446.6,1182.5 443.9,1179 441.1,1175.5 438.4,1172 435.6,1168.5 432.7,1165 429.9,1161.6 427,1158.1 424.2,1154.6 421.3,1151.1 418.4,1147.6 415.4,1144.1 412.5,1140.6 409.5,1137.1 406.6,1133.6 403.6,1130.1 400.6,1126.6 397.6,1123.1 394.5,1119.6 391.5,1116.2 388.4,1112.7 385.4,1109.2 382.3,1105.7 379.2,1102.2 376.1,1098.7 372.9,1095.2 369.8,1091.7 366.7,1088.2 363.5,1084.7 360.3,1081.2 357.2,1077.7 354,1074.2 350.8,1070.8 347.6,1067.3 344.4,1063.8 341.2,1060.3 338,1056.8 334.8,1053.3 331.5,1049.8 328.3,1046.3 325.1,1042.8 321.8,1039.3 318.6,1035.8 315.3,1032.3 312.1,1028.8 308.8,1025.3 305.6,1021.9 302.3,1018.4 299.1,1014.9 295.8,1011.4 292.5,1007.9 289.3,1004.4 286,1000.9 282.8,997.4 279.5,993.9 276.3,990.4 273,986.9 269.8,983.4 266.5,979.9 263.3,976.5 260.1,973 256.8,969.5 253.6,966 250.4,962.5 247.2,959 244,955.5 240.8,952 237.6,948.5 234.4,945 231.2,941.5 228,938 224.9,934.5 221.7,931.1 218.6,927.6 215.4,924.1 212.3,920.6 209.1,917.1 206,913.6 202.9,910.1"/><polyline points="497.5,1186 495,1182.5 492.5,1179 490,1175.5 487.5,1172 484.9,1168.5 482.4,1165 479.8,1161.6 477.2,1158.1 474.5,1154.6 471.9,1151.1 469.2,1147.6 466.5,1144.1 463.8,1140.6 461,1137.1 458.3,1133.6 455.5,1130.1 452.7,1126.6 449.9,1123.1 447.1,1119.6 444.3,1116.2 441.4,1112.7 438.5,1109.2 435.6,1105.7 432.7,1102.2 429.8,1098.7 426.8,1095.2 423.9,1091.7 420.9,1088.2 417.9,1084.7 414.9,1081.2 411.9,1077.7 408.9,1074.2 405.8,1070.8 402.8,1067.3 399.7,1063.8 396.6,1060.3 393.5,1056.8 390.4,1053.3 387.3,1049.8 384.2,1046.3 381,1042.8 377.9,1039.3 374.7,1035.8 371.6,1032.3 368.4,1028.8 365.2,1025.3 362,1021.9 358.8,1018.4 355.6,1014.9 352.4,1011.4 349.2,1007.9 346,1004.4 342.8,1000.9 339.6,997.4 336.4,993.9 333.2,990.4 329.9,986.9 326.7,983.4 323.5,979.9 320.2,976.5 317,973 313.8,969.5 310.6,966 307.3,962.5 304.1,959 300.9,955.5 297.7,952 294.4,948.5 291.2,945 288,941.5 284.8,938 281.6,934.5 278.4,931.1 275.2,927.6 272,924.1 268.8,920.6 265.6,917.1 262.5,913.6 259.3,910.1"/><polyline points="545.4,1186 543.2,1182.5 541,1179 538.8,1175.5 536.6,1172 534.3,1168.5 532,1165 529.7,1161.6 527.3,1158.1 525,1154.6 522.6,1151.1 520.2,1147.6 517.8,1144.1 515.3,1140.6 512.9,1137.1 510.4,1133.6 507.9,1130.1 505.4,1126.6 502.8,1123.1 500.2,1119.6 497.7,1116.2 495.1,1112.7 492.4,1109.2 489.8,1105.7 487.1,1102.2 484.4,1098.7 481.7,1095.2 479,1091.7 476.2,1088.2 473.5,1084.7 470.7,1081.2 467.9,1077.7 465.1,1074.2 462.3,1070.8 459.4,1067.3 456.5,1063.8 453.6,1060.3 450.7,1056.8 447.8,1053.3 444.9,1049.8 441.9,1046.3 439,1042.8 436,1039.3 433,1035.8 430,1032.3 427,1028.8 423.9,1025.3 420.9,1021.9 417.8,1018.4 414.8,1014.9 411.7,1011.4 408.6,1007.9 405.5,1004.4 402.4,1000.9 399.3,997.4 396.1,993.9 393,990.4 389.9,986.9 386.7,983.4 383.6,979.9 380.4,976.5 377.2,973 374.1,969.5 370.9,966 367.7,962.5 364.5,959 361.3,955.5 358.1,952 354.9,948.5 351.7,945 348.5,941.5 345.3,938 342.1,934.5 338.9,931.1 335.7,927.6 332.5,924.1 329.3,920.6 326.1,917.1 322.9,913.6 319.7,910.1"/><polyline points="593.2,1186 591.4,1182.5 589.4,1179 587.5,1175.5 585.6,1172 583.6,1168.5 581.6,1165 579.6,1161.6 577.6,1158.1 575.5,1154.6 573.4,1151.1 571.4,1147.6 569.2,1144.1 567.1,1140.6 565,1137.1 562.8,1133.6 560.6,1130.1 558.4,1126.6 556.1,1123.1 553.9,1119.6 551.6,1116.2 549.3,1112.7 546.9,1109.2 544.6,1105.7 542.2,1102.2 539.8,1098.7 537.4,1095.2 535,1091.7 532.5,1088.2 530.1,1084.7 527.6,1081.2 525.1,1077.7 522.5,1074.2 520,1070.8 517.4,1067.3 514.8,1063.8 512.2,1060.3 509.5,1056.8 506.9,1053.3 504.2,1049.8 501.5,1046.3 498.8,1042.8 496,1039.3 493.3,1035.8 490.5,1032.3 487.7,1028.8 484.9,1025.3 482.1,1021.9 479.2,1018.4 476.4,1014.9 473.5,1011.4 470.6,1007.9 467.7,1004.4 464.8,1000.9 461.9,997.4 458.9,993.9 455.9,990.4 453,986.9 450,983.4 447,979.9 443.9,976.5 440.9,973 437.9,969.5 434.8,966 431.7,962.5 428.7,959 425.6,955.5 422.5,952 419.4,948.5 416.3,945 413.2,941.5 410.1,938 406.9,934.5 403.8,931.1 400.7,927.6 397.5,924.1 394.4,920.6 391.2,917.1 388,913.6 384.9,910.1"/><polyline points="641,1186 639.4,1182.5 637.8,1179 636.2,1175.5 634.6,1172 632.9,1168.5 631.2,1165 629.5,1161.6 627.8,1158.1 626.1,1154.6 624.4,1151.1 622.6,1147.6 620.8,1144.1 619,1140.6 617.2,1137.1 615.3,1133.6 613.5,1130.1 611.6,1126.6 609.7,1123.1 607.8,1119.6 605.8,1116.2 603.9,1112.7 601.9,1109.2 599.9,1105.7 597.8,1102.2 595.8,1098.7 593.7,1095.2 591.6,1091.7 589.5,1088.2 587.4,1084.7 585.2,1081.2 583,1077.7 580.8,1074.2 578.6,1070.8 576.4,1067.3 574.1,1063.8 571.8,1060.3 569.5,1056.8 567.2,1053.3 564.8,1049.8 562.5,1046.3 560.1,1042.8 557.6,1039.3 555.2,1035.8 552.7,1032.3 550.3,1028.8 547.8,1025.3 545.2,1021.9 542.7,1018.4 540.1,1014.9 537.6,1011.4 535,1007.9 532.3,1004.4 529.7,1000.9 527,997.4 524.3,993.9 521.6,990.4 518.9,986.9 516.2,983.4 513.4,979.9 510.6,976.5 507.8,973 505,969.5 502.2,966 499.4,962.5 496.5,959 493.6,955.5 490.7,952 487.8,948.5 484.9,945 482,941.5 479,938 476.1,934.5 473.1,931.1 470.1,927.6 467.1,924.1 464.1,920.6 461.1,917.1 458,913.6 455,910.1"/><polyline points="688.7,1186 685.4,1177.1 682.1,1168.2 678.6,1159.2 675,1150.3 671.3,1141.4 667.5,1132.5 663.5,1123.5 659.5,1114.6 655.3,1105.7 651,1096.8 646.6,1087.8 642,1078.9 637.4,1070 632.5,1061.1 627.6,1052.1 622.5,1043.2 617.2,1034.3 611.9,1025.4 606.3,1016.4 600.7,1007.5 594.9,998.6 588.9,989.7 582.8,980.7 576.6,971.8 570.2,962.9 563.7,954 557,945.1 550.3,936.1 543.4,927.2 536.3,918.3 529.2,909.4 522,900.4 514.6,891.5 507.2,882.6 499.7,873.7 492.1,864.7 484.4,855.8 476.7,846.9 468.9,838 461.1,829 453.2,820.1 445.3,811.2 437.4,802.3 429.5,793.3 421.6,784.4 413.7,775.5 405.8,766.6 397.9,757.6 390,748.7 382.2,739.8 374.4,730.9 366.6,721.9 358.9,713 351.2,704.1 343.6,695.2 336.1,686.3 328.6,677.3 321.2,668.4 313.8,659.5 306.5,650.6 299.3,641.6 292.2,632.7 285.1,623.8 278.2,614.9 271.3,605.9 264.4,597 257.7,588.1 251,579.2 244.5,570.2 238,561.3 231.6,552.4 225.2,543.5 219,534.5 212.8,525.6 206.7,516.7 200.7,507.8 194.8,498.8 189,489.9 183.3,481"/><polyline points="736.5,1186 734,1177.1 731.4,1168.2 728.7,1159.2 725.9,1150.3 723.1,1141.4 720.1,1132.5 717.1,1123.5 713.9,1114.6 710.7,1105.7 707.3,1096.8 703.9,1087.8 700.3,1078.9 696.6,1070 692.8,1061.1 688.9,1052.1 684.8,1043.2 680.7,1034.3 676.4,1025.4 671.9,1016.4 667.3,1007.5 662.6,998.6 657.8,989.7 652.8,980.7 647.6,971.8 642.3,962.9 636.9,954 631.3,945.1 625.6,936.1 619.8,927.2 613.7,918.3 607.6,909.4 601.3,900.4 594.9,891.5 588.3,882.6 581.6,873.7 574.8,864.7 567.8,855.8 560.8,846.9 553.6,838 546.4,829 539,820.1 531.6,811.2 524.1,802.3 516.5,793.3 508.8,784.4 501.1,775.5 493.4,766.6 485.6,757.6 477.8,748.7 470,739.8 462.2,730.9 454.4,721.9 446.6,713 438.8,704.1 431,695.2 423.2,686.3 415.5,677.3 407.8,668.4 400.2,659.5 392.6,650.6 385.1,641.6 377.6,632.7 370.2,623.8 362.8,614.9 355.5,605.9 348.3,597 341.1,588.1 334.1,579.2 327.1,570.2 320.1,561.3 313.3,552.4 306.5,543.5 299.8,534.5 293.2,525.6 286.7,516.7 280.3,507.8 273.9,498.8 267.6,489.9 261.4,481"/><polyline points="784.5,1186 782.6,1177.1 780.8,1168.2 778.8,1159.2 776.8,1150.3 774.8,1141.4 772.6,1132.5 770.4,1123.5 768.1,1114.6 765.8,1105.7 763.3,1096.8 760.8,1087.8 758.2,1078.9 755.5,1070 752.6,1061.1 749.7,1052.1 746.7,1043.2 743.6,1034.3 740.4,1025.4 737.1,1016.4 733.7,1007.5 730.1,998.6 726.4,989.7 722.6,980.7 718.7,971.8 714.7,962.9 710.5,954 706.1,945.1 701.7,936.1 697.1,927.2 692.3,918.3 687.4,909.4 682.4,900.4 677.2,891.5 671.9,882.6 666.4,873.7 660.8,864.7 655,855.8 649,846.9 643,838 636.8,829 630.4,820.1 623.9,811.2 617.3,802.3 610.6,793.3 603.7,784.4 596.7,775.5 589.6,766.6 582.5,757.6 575.2,748.7 567.8,739.8 560.4,730.9 552.9,721.9 545.4,713 537.8,704.1 530.1,695.2 522.5,686.3 514.8,677.3 507.1,668.4 499.4,659.5 491.7,650.6 484,641.6 476.3,632.7 468.6,623.8 461,614.9 453.4,605.9 445.9,597 438.4,588.1 430.9,579.2 423.5,570.2 416.2,561.3 408.9,552.4 401.7,543.5 394.6,534.5 387.5,525.6 380.5,516.7 373.6,507.8 366.7,498.8 359.9,489.9 353.2,481"/><polyline points="832.5,1186 831.4,1177.1 830.2,1168.2 828.9,1159.2 827.6,1150.3 826.3,1141.4 824.9,1132.5 823.4,1123.5 821.9,1114.6 820.4,1105.7 818.8,1096.8 817.1,1087.8 815.3,1078.9 813.5,1070 811.7,1061.1 809.7,1052.1 807.7,1043.2 805.6,1034.3 803.4,1025.4 801.2,1016.4 798.8,1007.5 796.4,998.6 793.9,989.7 791.2,980.7 788.5,971.8 785.7,962.9 782.8,954 779.7,945.1 776.6,936.1 773.3,927.2 769.9,918.3 766.4,909.4 762.8,900.4 759,891.5 755.1,882.6 751.1,873.7 746.9,864.7 742.6,855.8 738.1,846.9 733.5,838 728.7,829 723.8,820.1 718.8,811.2 713.6,802.3 708.2,793.3 702.7,784.4 697,775.5 691.2,766.6 685.3,757.6 679.2,748.7 672.9,739.8 666.5,730.9 660,721.9 653.4,713 646.6,704.1 639.8,695.2 632.8,686.3 625.7,677.3 618.5,668.4 611.3,659.5 604,650.6 596.6,641.6 589.2,632.7 581.7,623.8 574.2,614.9 566.6,605.9 559,597 551.5,588.1 543.9,579.2 536.3,570.2 528.8,561.3 521.2,552.4 513.7,543.5 506.2,534.5 498.8,525.6 491.4,516.7 484,507.8 476.7,498.8 469.5,489.9 462.3,481"/><polyline points="880.8,1186 880.2,1177.1 879.6,1168.2 878.9,1159.2 878.3,1150.3 877.6,1141.4 876.8,1132.5 876.1,1123.5 875.3,1114.6 874.4,1105.7 873.6,1096.8 872.6,1087.8 871.7,1078.9 870.7,1070 869.6,1061.1 868.5,1052.1 867.4,1043.2 866.2,1034.3 865,1025.4 863.6,1016.4 862.3,1007.5 860.9,998.6 859.4,989.7 857.8,980.7 856.2,971.8 854.5,962.9 852.7,954 850.9,945.1 848.9,936.1 846.9,927.2 844.8,918.3 842.6,909.4 840.3,900.4 838,891.5 835.5,882.6 832.9,873.7 830.2,864.7 827.4,855.8 824.5,846.9 821.5,838 818.3,829 815,820.1 811.6,811.2 808.1,802.3 804.4,793.3 800.6,784.4 796.6,775.5 792.6,766.6 788.3,757.6 783.9,748.7 779.4,739.8 774.7,730.9 769.8,721.9 764.8,713 759.7,704.1 754.3,695.2 748.9,686.3 743.2,677.3 737.5,668.4 731.5,659.5 725.5,650.6 719.3,641.6 712.9,632.7 706.5,623.8 699.9,614.9 693.2,605.9 686.3,597 679.4,588.1 672.4,579.2 665.3,570.2 658.2,561.3 650.9,552.4 643.6,543.5 636.3,534.5 628.9,525.6 621.5,516.7 614.1,507.8 606.7,498.8 599.2,489.9 591.8,481"/><polyline points="929.2,1186 929.1,1177.1 929,1168.2 928.9,1159.2 928.8,1150.3 928.7,1141.4 928.5,1132.5 928.3,1123.5 928.1,1114.6 927.9,1105.7 927.7,1096.8 927.4,1087.8 927.1,1078.9 926.8,1070 926.5,1061.1 926.1,1052.1 925.7,1043.2 925.3,1034.3 924.8,1025.4 924.3,1016.4 923.8,1007.5 923.2,998.6 922.6,989.7 922,980.7 921.3,971.8 920.5,962.9 919.8,954 918.9,945.1 918,936.1 917.1,927.2 916.1,918.3 915.1,909.4 914,900.4 912.8,891.5 911.6,882.6 910.3,873.7 908.9,864.7 907.4,855.8 905.9,846.9 904.3,838 902.6,829 900.9,820.1 899,811.2 897.1,802.3 895,793.3 892.9,784.4 890.6,775.5 888.3,766.6 885.8,757.6 883.3,748.7 880.6,739.8 877.8,730.9 874.9,721.9 871.8,713 868.6,704.1 865.3,695.2 861.8,686.3 858.2,677.3 854.5,668.4 850.6,659.5 846.5,650.6 842.3,641.6 838,632.7 833.5,623.8 828.8,614.9 824,605.9 819,597 813.9,588.1 808.6,579.2 803.1,570.2 797.5,561.3 791.7,552.4 785.8,543.5 779.7,534.5 773.6,525.6 767.2,516.7 760.8,507.8 754.2,498.8 747.6,489.9 740.8,481"/><polyline points="977.8,1186 978.1,1177.1 978.5,1168.2 978.8,1159.2 979.2,1150.3 979.5,1141.4 979.9,1132.5 980.2,1123.5 980.5,1114.6 980.8,1105.7 981.1,1096.8 981.4,1087.8 981.7,1078.9 981.9,1070 982.2,1061.1 982.4,1052.1 982.6,1043.2 982.8,1034.3 983,1025.4 983.2,1016.4 983.4,1007.5 983.5,998.6 983.6,989.7 983.7,980.7 983.8,971.8 983.8,962.9 983.9,954 983.9,945.1 983.8,936.1 983.8,927.2 983.7,918.3 983.5,909.4 983.4,900.4 983.2,891.5 983,882.6 982.7,873.7 982.4,864.7 982.1,855.8 981.7,846.9 981.2,838 980.7,829 980.2,820.1 979.6,811.2 979,802.3 978.3,793.3 977.6,784.4 976.7,775.5 975.9,766.6 974.9,757.6 973.9,748.7 972.8,739.8 971.7,730.9 970.5,721.9 969.2,713 967.8,704.1 966.3,695.2 964.7,686.3 963.1,677.3 961.3,668.4 959.4,659.5 957.5,650.6 955.4,641.6 953.2,632.7 950.9,623.8 948.5,614.9 946,605.9 943.3,597 940.5,588.1 937.6,579.2 934.6,570.2 931.4,561.3 928,552.4 924.5,543.5 920.9,534.5 917.1,525.6 913.1,516.7 909,507.8 904.7,498.8 900.2,489.9 895.6,481"/></g>
<g stroke="#00c300" stroke-width="1" stroke-dasharray="8,6"><polyline points="463.1,1186 468.5,1176.5 473.8,1167 479.2,1157.4 484.6,1147.9 489.9,1138.4 495.3,1128.9 500.7,1119.4 506.1,1109.9 511.6,1100.3 517,1090.8 522.4,1081.3 527.9,1071.8 533.3,1062.3 538.8,1052.8 544.2,1043.2 549.7,1033.7 555.2,1024.2 560.7,1014.7 566.2,1005.2 571.7,995.7 577.2,986.1 582.7,976.6 588.3,967.1 593.8,957.6 599.4,948.1 604.9,938.6 610.5,929 616.1,919.5 621.7,910"/><polyline points="529.2,1186 534.4,1176.5 539.6,1167 544.8,1157.4 550,1147.9 555.2,1138.4 560.4,1128.9 565.7,1119.4 570.9,1109.9 576.2,1100.3 581.5,1090.8 586.7,1081.3 592,1071.8 597.3,1062.3 602.6,1052.8 607.9,1043.2 613.3,1033.7 618.6,1024.2 623.9,1014.7 629.3,1005.2 634.6,995.7 640,986.1 645.4,976.6 650.8,967.1 656.2,957.6 661.6,948.1 667,938.6 672.4,929 677.8,919.5 683.2,910"/><polyline points="616.6,1186 621.6,1176.5 626.6,1167 631.6,1157.4 636.6,1147.9 641.6,1138.4 646.6,1128.9 651.6,1119.4 656.6,1109.9 661.7,1100.3 666.7,1090.8 671.8,1081.3 676.9,1071.8 681.9,1062.3 687,1052.8 692.1,1043.2 697.2,1033.7 702.4,1024.2 707.5,1014.7 712.6,1005.2 717.8,995.7 723,986.1 728.1,976.6 733.3,967.1 738.5,957.6 743.7,948.1 748.9,938.6 754.1,929 759.3,919.5 764.6,910"/><polyline points="701.4,1186 706.1,1176.5 710.9,1167 715.7,1157.4 720.4,1147.9 725.2,1138.4 730,1128.9 734.8,1119.4 739.6,1109.9 744.5,1100.3 749.3,1090.8 754.2,1081.3 759,1071.8 763.9,1062.3 768.8,1052.8 773.7,1043.2 778.6,1033.7 783.5,1024.2 788.4,1014.7 793.3,1005.2 798.3,995.7 803.2,986.1 808.2,976.6 813.2,967.1 818.2,957.6 823.2,948.1 828.2,938.6 833.2,929 838.2,919.5 843.2,910"/><polyline points="777.9,1186 782.5,1176.5 787,1167 791.6,1157.4 796.1,1147.9 800.7,1138.4 805.3,1128.9 809.9,1119.4 814.5,1109.9 819.2,1100.3 823.8,1090.8 828.5,1081.3 833.1,1071.8 837.8,1062.3 842.5,1052.8 847.2,1043.2 851.9,1033.7 856.6,1024.2 861.4,1014.7 866.1,1005.2 870.9,995.7 875.6,986.1 880.4,976.6 885.2,967.1 890,957.6 894.8,948.1 899.6,938.6 904.4,929 909.3,919.5 914.1,910"/><polyline points="834.1,1186 838.5,1176.5 842.9,1167 847.3,1157.4 851.7,1147.9 856.2,1138.4 860.6,1128.9 865.1,1119.4 869.5,1109.9 874,1100.3 878.5,1090.8 883,1081.3 887.5,1071.8 892.1,1062.3 896.6,1052.8 901.2,1043.2 905.7,1033.7 910.3,1024.2 914.9,1014.7 919.5,1005.2 924.1,995.7 928.7,986.1 933.4,976.6 938,967.1 942.7,957.6 947.3,948.1 952,938.6 956.7,929 961.4,919.5 966.1,910"/><polyline points="878.8,1186 883.1,1176.5 887.4,1167 891.6,1157.4 895.9,1147.9 900.2,1138.4 904.6,1128.9 908.9,1119.4 913.3,1109.9 917.6,1100.3 922,1090.8 926.4,1081.3 930.8,1071.8 935.2,1062.3 939.6,1052.8 944,1043.2 948.5,1033.7 953,1024.2 957.4,1014.7 961.9,1005.2 966.4,995.7 970.9,986.1 975.4,976.6 980,967.1 984.5,957.6 989.1,948.1 993.6,938.6 998.2,929 1002.8,919.5 1007.4,910"/><polyline points="916,1186 920.2,1176.5 924.3,1167 928.5,1157.4 932.7,1147.9 936.9,1138.4 941.1,1128.9 945.4,1119.4 949.6,1109.9 953.9,1100.3 958.1,1090.8 962.4,1081.3 966.7,1071.8 971,1062.3 975.4,1052.8 979.7,1043.2 984.1,1033.7 988.4,1024.2 992.8,1014.7 997.2,1005.2 1001.6,995.7 1006,986.1 1010.4,976.6 1014.9,967.1 1019.3,957.6 1023.8,948.1 1028.2,938.6 1032.7,929 1037.2,919.5 1041.7,910"/></g>
<g stroke="#bebebe" stroke-width="1"><line x1="144" y1="718.5" x2="1205" y2="718.5"/><line x1="144" y1="825.5" x2="1205" y2="825.5"/><line x1="144" y1="910.5" x2="1205" y2="910.5"/><line x1="144" y1="947.5" x2="1205" y2="947.5"/><line x1="144" y1="981.5" x2="1205" y2="981.5"/><line x1="144" y1="1042.5" x2="1205" y2="1042.5"/><line x1="144" y1="1070.5" x2="1205" y2="1070.5"/><line x1="144" y1="1120.5" x2="1205" y2="1120.5"/><line x1="144" y1="1143.5" x2="1205" y2="1143.5"/></g>
</g>
<g stroke="#000" stroke-width="1" clip-path="url(#c)"><line x1="144" y1="358.5" x2="1009" y2="358.5"/><line x1="144" y1="481.5" x2="1009" y2="481.5"/><line x1="144" y1="575.5" x2="1009" y2="575.5"/><line x1="144" y1="653.5" x2="1009" y2="653.5"/><line x1="144" y1="775.5" x2="1009" y2="775.5"/><line x1="144" y1="870.5" x2="1205" y2="870.5"/><line x1="144" y1="1013.5" x2="1205" y2="1013.5"/><line x1="144" y1="1095.5" x2="1205" y2="1095.5"/><line x1="144" y1="1131.5" x2="1205" y2="1131.5"/><line x1="144" y1="1164.5" x2="1205" y2="1164.5"/></g>
<polyline fill="none" stroke="#000" stroke-width="1" points="144.5,1185.5 144.5,186.5 1009.5,186.5 1009.5,775.5 1204.5,965 1204.5,1185.5 144.5,1185.5"/>
<rect x="145" y="871" width="306" height="314" fill="#fff"/>
<g stroke="#000" stroke-width="1" shape-rendering="crispEdges"><line x1="262.5" y1="870.5" x2="272.5" y2="860.5"/><line x1="287.5" y1="870.5" x2="297.5" y2="860.5"/><line x1="312.5" y1="870.5" x2="322.5" y2="860.5"/><line x1="337.5" y1="870.5" x2="347.5" y2="860.5"/><line x1="386.5" y1="870.5" x2="396.5" y2="860.5"/><line x1="411.5" y1="870.5" x2="421.5" y2="860.5"/><line x1="436.5" y1="870.5" x2="446.5" y2="860.5"/><line x1="461.5" y1="870.5" x2="471.5" y2="860.5"/><line x1="511.5" y1="870.5" x2="521.5" y2="860.5"/><line x1="536.5" y1="870.5" x2="546.5" y2="860.5"/><line x1="560.5" y1="870.5" x2="570.5" y2="860.5"/><line x1="585.5" y1="870.5" x2="595.5" y2="860.5"/><line x1="635.5" y1="870.5" x2="645.5" y2="860.5"/><line x1="660.5" y1="870.5" x2="670.5" y2="860.5"/><line x1="685.5" y1="870.5" x2="695.5" y2="860.5"/><line x1="710.5" y1="870.5" x2="720.5" y2="860.5"/><line x1="759.5" y1="870.5" x2="769.5" y2="860.5"/><line x1="784.5" y1="870.5" x2="794.5" y2="860.5"/><line x1="809.5" y1="870.5" x2="819.5" y2="860.5"/><line x1="834.5" y1="870.5" x2="844.5" y2="860.5"/><line x1="883.5" y1="870.5" x2="893.5" y2="860.5"/><line x1="908.5" y1="870.5" x2="918.5" y2="860.5"/><line x1="933.5" y1="870.5" x2="943.5" y2="860.5"/><line x1="958.5" y1="870.5" x2="968.5" y2="860.5"/></g>
<text x="81.3" y="26.4" font-size="27.5" fill="#000" font-family="'Liberation Serif',serif" text-anchor="start" textLength="52.2" lengthAdjust="spacingAndGlyphs">Init:</text>
<text x="150.5" y="26.4" font-size="27.5" fill="#000" font-family="'Liberation Serif',serif" text-anchor="start" textLength="28.6" lengthAdjust="spacingAndGlyphs">00</text>
<text x="195.3" y="26.4" font-size="27.5" fill="#000" font-family="'Liberation Serif',serif" text-anchor="start" textLength="49" lengthAdjust="spacingAndGlyphs">UTC</text>
<text x="258.3" y="26.4" font-size="27.5" fill="#000" font-family="'Liberation Serif',serif" text-anchor="start" textLength="46.7" lengthAdjust="spacingAndGlyphs">Tue</text>
<text x="319.8" y="26.4" font-size="27.5" fill="#000" font-family="'Liberation Serif',serif" text-anchor="start" textLength="28.9" lengthAdjust="spacingAndGlyphs">02</text>
<text x="363.5" y="26.4" font-size="27.5" fill="#000" font-family="'Liberation Serif',serif" text-anchor="start" textLength="44.5" lengthAdjust="spacingAndGlyphs">Jan</text>
<text x="425" y="26.4" font-size="27.5" fill="#000" font-family="'Liberation Serif',serif" text-anchor="start" textLength="27.4" lengthAdjust="spacingAndGlyphs">18</text>
<text x="1064.6" y="26.4" font-size="27.5" fill="#000" font-family="'Liberation Serif',serif" text-anchor="start" textLength="61.6" lengthAdjust="spacingAndGlyphs">Fcst:</text>
<text x="1170.9" y="26.4" font-size="27.5" fill="#000" font-family="'Liberation Serif',serif" text-anchor="start" textLength="26" lengthAdjust="spacingAndGlyphs">17</text>
<text x="1212.3" y="26.4" font-size="27.5" fill="#000" font-family="'Liberation Serif',serif" text-anchor="start" textLength="17" lengthAdjust="spacingAndGlyphs">h</text>
<text x="539.8" y="52.1" font-size="27.5" fill="#000" font-family="'Liberation Serif',serif" text-anchor="start" textLength="72.3" lengthAdjust="spacingAndGlyphs">Valid:</text>
<text x="630.2" y="52.1" font-size="27.5" fill="#000" font-family="'Liberation Serif',serif" text-anchor="start" textLength="27.4" lengthAdjust="spacingAndGlyphs">17</text>
<text x="673.1" y="52.1" font-size="27.5" fill="#000" font-family="'Liberation Serif',serif" text-anchor="start" textLength="48.7" lengthAdjust="spacingAndGlyphs">UTC</text>
<text x="736.3" y="52.1" font-size="27.5" fill="#000" font-family="'Liberation Serif',serif" text-anchor="start" textLength="46.7" lengthAdjust="spacingAndGlyphs">Tue</text>
<text x="797.7" y="52.1" font-size="27.5" fill="#000" font-family="'Liberation Serif',serif" text-anchor="start" textLength="29" lengthAdjust="spacingAndGlyphs">02</text>
<text x="841.5" y="52.1" font-size="27.5" fill="#000" font-family="'Liberation Serif',serif" text-anchor="start" textLength="44.5" lengthAdjust="spacingAndGlyphs">Jan</text>
<text x="902.9" y="52.1" font-size="27.5" fill="#000" font-family="'Liberation Serif',serif" text-anchor="start" textLength="27.9" lengthAdjust="spacingAndGlyphs">18</text>
<text x="946.3" y="52.1" font-size="27.5" fill="#000" font-family="'Liberation Serif',serif" text-anchor="start" textLength="40.8" lengthAdjust="spacingAndGlyphs">(12</text>
<text x="1000.3" y="52.1" font-size="27.5" fill="#000" font-family="'Liberation Serif',serif" text-anchor="start" textLength="47.5" lengthAdjust="spacingAndGlyphs">EST</text>
<text x="1061.6" y="52.1" font-size="27.5" fill="#000" font-family="'Liberation Serif',serif" text-anchor="start" textLength="46.3" lengthAdjust="spacingAndGlyphs">Tue</text>
<text x="1123.3" y="52.1" font-size="27.5" fill="#000" font-family="'Liberation Serif',serif" text-anchor="start" textLength="29.5" lengthAdjust="spacingAndGlyphs">02</text>
<text x="1167.6" y="52.1" font-size="27.5" fill="#000" font-family="'Liberation Serif',serif" text-anchor="start" textLength="43.8" lengthAdjust="spacingAndGlyphs">Jan</text>
<text x="1227.6" y="52.1" font-size="27.5" fill="#000" font-family="'Liberation Serif',serif" text-anchor="start" textLength="38.2" lengthAdjust="spacingAndGlyphs">18)</text>
<text x="97.1" y="195.1" font-size="24.2" fill="#000" font-family="'Liberation Serif',serif" text-anchor="start" textLength="41.4" lengthAdjust="spacingAndGlyphs">100</text>
<text x="97.1" y="366.1" font-size="24.2" fill="#000" font-family="'Liberation Serif',serif" text-anchor="start" textLength="41.4" lengthAdjust="spacingAndGlyphs">150</text>
<text x="97.1" y="490.1" font-size="24.2" fill="#000" font-family="'Liberation Serif',serif" text-anchor="start" textLength="41.4" lengthAdjust="spacingAndGlyphs">200</text>
<text x="97.1" y="584.1" font-size="24.2" fill="#000" font-family="'Liberation Serif',serif" text-anchor="start" textLength="41.4" lengthAdjust="spacingAndGlyphs">250</text>
<text x="97.1" y="661.6" font-size="24.2" fill="#000" font-family="'Liberation Serif',serif" text-anchor="start" textLength="41.4" lengthAdjust="spacingAndGlyphs">300</text>
<text x="97.1" y="784.1" font-size="24.2" fill="#000" font-family="'Liberation Serif',serif" text-anchor="start" textLength="41.4" lengthAdjust="spacingAndGlyphs">400</text>
<text x="97.1" y="879.1" font-size="24.2" fill="#000" font-family="'Liberation Serif',serif" text-anchor="start" textLength="41.4" lengthAdjust="spacingAndGlyphs">500</text>
<text x="97.1" y="1021.6" font-size="24.2" fill="#000" font-family="'Liberation Serif',serif" text-anchor="start" textLength="41.4" lengthAdjust="spacingAndGlyphs">700</text>
<text x="97.1" y="1103.6" font-size="24.2" fill="#000" font-family="'Liberation Serif',serif" text-anchor="start" textLength="41.4" lengthAdjust="spacingAndGlyphs">850</text>
<text x="97.1" y="1140.1" font-size="24.2" fill="#000" font-family="'Liberation Serif',serif" text-anchor="start" textLength="41.4" lengthAdjust="spacingAndGlyphs">925</text>
<text x="83.3" y="1173.6" font-size="24.2" fill="#000" font-family="'Liberation Serif',serif" text-anchor="start" textLength="55.2" lengthAdjust="spacingAndGlyphs">1000</text>
<text x="141.5" y="878" font-size="21" font-weight="bold" stroke="#000" stroke-width="0.7" font-family="'Liberation Serif',serif" textLength="13" lengthAdjust="spacingAndGlyphs">M</text>
<text x="149.9" y="219.3" font-size="21.2" fill="#cfbd9c" font-family="'Liberation Serif',serif" text-anchor="start" textLength="37" lengthAdjust="spacingAndGlyphs">320</text>
<text x="221.7" y="219.3" font-size="21.2" fill="#cfbd9c" font-family="'Liberation Serif',serif" text-anchor="start" textLength="37" lengthAdjust="spacingAndGlyphs">330</text>
<text x="285.5" y="219.3" font-size="21.2" fill="#cfbd9c" font-family="'Liberation Serif',serif" text-anchor="start" textLength="37" lengthAdjust="spacingAndGlyphs">340</text>
<text x="350" y="219.3" font-size="21.2" fill="#cfbd9c" font-family="'Liberation Serif',serif" text-anchor="start" textLength="37" lengthAdjust="spacingAndGlyphs">350</text>
<text x="413.7" y="219.3" font-size="21.2" fill="#cfbd9c" font-family="'Liberation Serif',serif" text-anchor="start" textLength="37" lengthAdjust="spacingAndGlyphs">360</text>
<text x="478" y="219.3" font-size="21.2" fill="#cfbd9c" font-family="'Liberation Serif',serif" text-anchor="start" textLength="37" lengthAdjust="spacingAndGlyphs">370</text>
<text x="547.8" y="219.3" font-size="21.2" fill="#cfbd9c" font-family="'Liberation Serif',serif" text-anchor="start" textLength="37" lengthAdjust="spacingAndGlyphs">380</text>
<text x="611.5" y="219.3" font-size="21.2" fill="#cfbd9c" font-family="'Liberation Serif',serif" text-anchor="start" textLength="37" lengthAdjust="spacingAndGlyphs">390</text>
<text x="675.3" y="219.3" font-size="21.2" fill="#cfbd9c" font-family="'Liberation Serif',serif" text-anchor="start" textLength="37" lengthAdjust="spacingAndGlyphs">400</text>
<text x="738.5" y="219.3" font-size="21.2" fill="#cfbd9c" font-family="'Liberation Serif',serif" text-anchor="start" textLength="37" lengthAdjust="spacingAndGlyphs">410</text>
<text x="803" y="219.3" font-size="21.2" fill="#cfbd9c" font-family="'Liberation Serif',serif" text-anchor="start" textLength="37" lengthAdjust="spacingAndGlyphs">420</text>
<text x="866.5" y="219.3" font-size="21.2" fill="#cfbd9c" font-family="'Liberation Serif',serif" text-anchor="start" textLength="37" lengthAdjust="spacingAndGlyphs">430</text>
<text x="936.5" y="219.3" font-size="21.2" fill="#cfbd9c" font-family="'Liberation Serif',serif" text-anchor="start" textLength="37" lengthAdjust="spacingAndGlyphs">440</text>
<text x="149.5" y="326.8" font-size="21.2" fill="#cfbd9c" font-family="'Liberation Serif',serif" text-anchor="start" textLength="37.5" lengthAdjust="spacingAndGlyphs">310</text>
<text x="149.5" y="458.5" font-size="21.2" fill="#cfbd9c" font-family="'Liberation Serif',serif" text-anchor="start" textLength="37.5" lengthAdjust="spacingAndGlyphs">300</text>
<text x="149.5" y="586" font-size="21.2" fill="#cfbd9c" font-family="'Liberation Serif',serif" text-anchor="start" textLength="37.5" lengthAdjust="spacingAndGlyphs">290</text>
<text x="149.5" y="704.5" font-size="21.2" fill="#cfbd9c" font-family="'Liberation Serif',serif" text-anchor="start" textLength="37.5" lengthAdjust="spacingAndGlyphs">280</text>
<text x="149.5" y="822.8" font-size="21.2" fill="#cfbd9c" font-family="'Liberation Serif',serif" text-anchor="start" textLength="37.5" lengthAdjust="spacingAndGlyphs">270</text>
<text x="185.3" y="504" font-size="21.2" fill="#00c300" font-family="'Liberation Serif',serif" text-anchor="start" textLength="11.4" lengthAdjust="spacingAndGlyphs">8</text>
<text x="252.8" y="504" font-size="21.2" fill="#00c300" font-family="'Liberation Serif',serif" text-anchor="start" textLength="23.8" lengthAdjust="spacingAndGlyphs">12</text>
<text x="344.7" y="504" font-size="21.2" fill="#00c300" font-family="'Liberation Serif',serif" text-anchor="start" textLength="23.8" lengthAdjust="spacingAndGlyphs">16</text>
<text x="452.4" y="504" font-size="21.2" fill="#00c300" font-family="'Liberation Serif',serif" text-anchor="start" textLength="23.8" lengthAdjust="spacingAndGlyphs">20</text>
<text x="582.6" y="504" font-size="21.2" fill="#00c300" font-family="'Liberation Serif',serif" text-anchor="start" textLength="23.8" lengthAdjust="spacingAndGlyphs">24</text>
<text x="732.1" y="504" font-size="21.2" fill="#00c300" font-family="'Liberation Serif',serif" text-anchor="start" textLength="23.8" lengthAdjust="spacingAndGlyphs">28</text>
<text x="887.1" y="504" font-size="21.2" fill="#00c300" font-family="'Liberation Serif',serif" text-anchor="start" textLength="23.8" lengthAdjust="spacingAndGlyphs">32</text>
<text x="620.5" y="904.8" font-size="21.2" fill="#00c300" font-family="'Liberation Serif',serif" text-anchor="start" textLength="11.4" lengthAdjust="spacingAndGlyphs">2</text>
<text x="682.5" y="904.8" font-size="21.2" fill="#00c300" font-family="'Liberation Serif',serif" text-anchor="start" textLength="11.4" lengthAdjust="spacingAndGlyphs">3</text>
<text x="763.9" y="904.8" font-size="21.2" fill="#00c300" font-family="'Liberation Serif',serif" text-anchor="start" textLength="11.4" lengthAdjust="spacingAndGlyphs">5</text>
<text x="842.8" y="904.8" font-size="21.2" fill="#00c300" font-family="'Liberation Serif',serif" text-anchor="start" textLength="11.4" lengthAdjust="spacingAndGlyphs">8</text>
<text x="902.9" y="904.8" font-size="21.2" fill="#00c300" font-family="'Liberation Serif',serif" text-anchor="start" textLength="23.8" lengthAdjust="spacingAndGlyphs">12</text>
<text x="954.6" y="904.8" font-size="21.2" fill="#00c300" font-family="'Liberation Serif',serif" text-anchor="start" textLength="23.8" lengthAdjust="spacingAndGlyphs">16</text>
<text x="995.3" y="904.8" font-size="21.2" fill="#00c300" font-family="'Liberation Serif',serif" text-anchor="start" textLength="23.8" lengthAdjust="spacingAndGlyphs">20</text>
<text x="1029.6" y="904.8" font-size="21.2" fill="#00c300" font-family="'Liberation Serif',serif" text-anchor="start" textLength="23.8" lengthAdjust="spacingAndGlyphs">24</text>
<g transform="translate(303.4,141.2) rotate(-45)" fill="#cfbd9c" font-family="'Liberation Serif',serif" text-anchor="middle"><text x="-32 -16 0" y="7.9" font-size="24">100</text><text x="-50.3" y="9" font-size="28">−</text></g>
<g transform="translate(427,141.5) rotate(-45)" fill="#cfbd9c" font-family="'Liberation Serif',serif" text-anchor="middle"><text x="-16 0" y="7.9" font-size="24">90</text><text x="-34.3" y="9" font-size="28">−</text></g>
<g transform="translate(551.1,141.5) rotate(-45)" fill="#cfbd9c" font-family="'Liberation Serif',serif" text-anchor="middle"><text x="-16 0" y="7.9" font-size="24">80</text><text x="-34.3" y="9" font-size="28">−</text></g>
<g transform="translate(675.2,141.5) rotate(-45)" fill="#cfbd9c" font-family="'Liberation Serif',serif" text-anchor="middle"><text x="-16 0" y="7.9" font-size="24">70</text><text x="-34.3" y="9" font-size="28">−</text></g>
<g transform="translate(799.3,141.5) rotate(-45)" fill="#cfbd9c" font-family="'Liberation Serif',serif" text-anchor="middle"><text x="-16 0" y="7.9" font-size="24">60</text><text x="-34.3" y="9" font-size="28">−</text></g>
<g transform="translate(923.4,141.5) rotate(-45)" fill="#cfbd9c" font-family="'Liberation Serif',serif" text-anchor="middle"><text x="-16 0" y="7.9" font-size="24">50</text><text x="-34.3" y="9" font-size="28">−</text></g>
<g transform="translate(1047.5,141.5) rotate(-45)" fill="#cfbd9c" font-family="'Liberation Serif',serif" text-anchor="middle"><text x="-16 0" y="7.9" font-size="24">40</text><text x="-34.3" y="9" font-size="28">−</text></g>
<g transform="translate(1052.8,268) rotate(-45)" fill="#cfbd9c" font-family="'Liberation Serif',serif" text-anchor="middle"><text x="-16 0" y="7.9" font-size="24">30</text><text x="-34.3" y="9" font-size="28">−</text></g>
<g transform="translate(1052.8,400.2) rotate(-45)" fill="#cfbd9c" font-family="'Liberation Serif',serif" text-anchor="middle"><text x="-16 0" y="7.9" font-size="24">20</text><text x="-34.3" y="9" font-size="28">−</text></g>
<g transform="translate(1052.8,532.5) rotate(-45)" fill="#cfbd9c" font-family="'Liberation Serif',serif" text-anchor="middle"><text x="-16 0" y="7.9" font-size="24">10</text><text x="-34.3" y="9" font-size="28">−</text></g>
<g transform="translate(1044,673) rotate(-45)" fill="#cfbd9c" font-family="'Liberation Serif',serif" text-anchor="middle"><text x="0" y="7.9" font-size="24">0</text></g>
<g transform="translate(1079.7,768.3) rotate(-45)" fill="#cfbd9c" font-family="'Liberation Serif',serif" text-anchor="middle"><text x="-16 0" y="7.9" font-size="24">10</text></g>
<g transform="translate(1207.6,894.9) rotate(-45)" fill="#cfbd9c" font-family="'Liberation Serif',serif" text-anchor="middle"><text x="-16 0" y="7.9" font-size="24">30</text></g>
<g transform="translate(1241.7,992.4) rotate(-45)" fill="#cfbd9c" font-family="'Liberation Serif',serif" text-anchor="middle"><text x="-16 0" y="7.9" font-size="24">40</text></g>
<g fill="#000"><text x="218.7" y="895.5" font-size="23.25" font-family="'DejaVu Sans Mono','Liberation Mono',monospace" xml:space="preserve">Parcel Info</text><text x="160" y="930.7" font-size="20.6" font-family="'DejaVu Sans Mono','Liberation Mono',monospace" xml:space="preserve" textLength="273.2" lengthAdjust="spacingAndGlyphs">T  =   -10.8 Td = -16.3</text><text x="160" y="954.6" font-size="20.6" font-family="'DejaVu Sans Mono','Liberation Mono',monospace" xml:space="preserve" textLength="285.1" lengthAdjust="spacingAndGlyphs">LI =    23.3 LCL =  914.</text><text x="160" y="978.5" font-size="20.6" font-family="'DejaVu Sans Mono','Liberation Mono',monospace" xml:space="preserve" textLength="285.1" lengthAdjust="spacingAndGlyphs">K  =     -20 LFC =    0.</text><text x="160" y="1002.4" font-size="20.6" font-family="'DejaVu Sans Mono','Liberation Mono',monospace" xml:space="preserve" textLength="285.1" lengthAdjust="spacingAndGlyphs">TT =      24 EL  =    0.</text><text x="160" y="1026.3" font-size="20.6" font-family="'DejaVu Sans Mono','Liberation Mono',monospace" xml:space="preserve" textLength="285.1" lengthAdjust="spacingAndGlyphs">SWI =   17.7 CCL =  652.</text><text x="160" y="1050.2" font-size="20.6" font-family="'DejaVu Sans Mono','Liberation Mono',monospace" xml:space="preserve" textLength="285.1" lengthAdjust="spacingAndGlyphs">PW =    0.30 VGP =   0.0</text><text x="160" y="1074.1" font-size="20.6" font-family="'DejaVu Sans Mono','Liberation Mono',monospace" xml:space="preserve" textLength="285.1" lengthAdjust="spacingAndGlyphs">CAPE =     0 SWEAT=  120</text><text x="160" y="1098" font-size="20.6" font-family="'DejaVu Sans Mono','Liberation Mono',monospace" xml:space="preserve" textLength="285.1" lengthAdjust="spacingAndGlyphs">CIN =      0 HWBZ=    0.</text><text x="160" y="1121.9" font-size="20.6" font-family="'DejaVu Sans Mono','Liberation Mono',monospace" xml:space="preserve" textLength="285.1" lengthAdjust="spacingAndGlyphs">Tc =    11.1 SHEAR=  50.</text><text x="160" y="1145.8" font-size="20.6" font-family="'DejaVu Sans Mono','Liberation Mono',monospace" xml:space="preserve" textLength="285.1" lengthAdjust="spacingAndGlyphs">SREH =     0 LAPSE=  5.1</text><text x="160" y="1169.7" font-size="20.6" font-family="'DejaVu Sans Mono','Liberation Mono',monospace" xml:space="preserve" textLength="154.4" lengthAdjust="spacingAndGlyphs">CELL = 291/51</text></g>
<polyline fill="none" stroke="#00ff00" stroke-width="3" stroke-linejoin="round" points="447.3,204.2 429.3,226.2 415,241.7 394.4,264.9 357,301 313,346.3 297.5,359.2 278.2,376 270.4,382.4 245.5,401.2 172.5,452.5 160,486.7 174,520.7 174,556 185,573.3 198.3,588.3 228.3,611.7 238.3,620 273.3,653.3 293.3,686.7 303.3,720 328.3,773.3 336.7,791.7 348.3,820 368.3,870 372,886.7 372,926.7 369.3,956 360,980 330.7,1025.3 314.7,1052 304,1078.7 308,1092 326.7,1108 344,1126.7 365.3,1146.7 365.3,1170.7"/>
<polyline fill="none" stroke="#ff0000" stroke-width="3" stroke-linejoin="round" points="848.6,204.2 778.8,293.5 768.3,311 736.8,347.2 698.3,382.2 652.8,428.8 602,482 570,511 558,523 542,540 524,558 500,576 484,588 456,610 444,619 410,653 388,686 379,717 386,749 399,775 415,809 438,870 452,910 458,930 465.6,953.8 467.8,975.5 466.7,1012.4 463.5,1038.4 455.9,1068.8 452.6,1081.8 440.7,1094.8 426.6,1107.8 410.4,1120.8 398.4,1131.6 398.4,1143.5 410.4,1154.4 426.6,1165.2 439.6,1172.8"/>
<line x1="524" y1="985" x2="554" y2="985" stroke="#000" stroke-width="2"/>
<text x="557" y="990.7" font-size="22" fill="#000" font-family="'Liberation Serif',serif" text-anchor="start" textLength="39" lengthAdjust="spacingAndGlyphs" font-weight="bold">CCL</text>
<line x1="412" y1="1128" x2="442" y2="1128" stroke="#000" stroke-width="2"/>
<text x="445" y="1134.9" font-size="22" fill="#000" font-family="'Liberation Serif',serif" text-anchor="start" textLength="36" lengthAdjust="spacingAndGlyphs" font-weight="bold">LCL</text>
<text x="1153.5" y="152" font-size="16.5" fill="#000" font-family="'Liberation Serif',serif" text-anchor="middle" textLength="86.3" lengthAdjust="spacingAndGlyphs" stroke="#000" stroke-width="0.4">Full barb:</text>
<text x="1154.8" y="168" font-size="16.5" fill="#000" font-family="'Liberation Serif',serif" text-anchor="middle" textLength="54.7" lengthAdjust="spacingAndGlyphs" stroke="#000" stroke-width="0.4">10 kts</text>
<path d="M1138.5,204.3L1092.2,201.7M1107.5,202.6l-3.5,-16.1M1099.9,202.2L1092.2,201.7L1093.1,185.8ZM1138.5,239.7L1099.8,239.7M1115,239.7l-2.2,-8M1107.5,239.7L1099.8,239.7L1099.8,223.7ZM1138.5,275.2L1092.1,275.2M1107.5,275.2l-4.4,-15.9M1099.8,275.2L1092.1,275.2L1092.1,259.2ZM1138.5,311L1092.1,311M1107.5,311l-4.4,-15.9M1099.8,311L1092.1,311L1092.1,295ZM1138.5,345.7L1092.1,345.7M1107.5,345.7l-4.4,-15.9M1115,345.7l-2.2,-8M1099.8,345.7L1092.1,345.7L1092.1,329.7ZM1138.5,381.5L1084.4,381.5M1107.5,381.5l-4.4,-15.9M1099.8,381.5l-4.4,-15.9M1092.1,381.5L1084.4,381.5L1084.4,365.5ZM1138.5,416.7L1084.4,416.7M1107.5,416.7l-4.4,-15.9M1099.8,416.7l-4.4,-15.9M1115,416.7l-2.2,-8M1092.1,416.7L1084.4,416.7L1084.4,400.7ZM1138.5,453L1084.4,453M1107.5,453l-4.4,-15.9M1099.8,453l-4.4,-15.9M1115,453l-2.2,-8M1092.1,453L1084.4,453L1084.4,437ZM1138.5,488.5L1084.4,490.4M1107.5,489.6l-5,-15.7M1099.8,489.9l-5,-15.7M1115,489.3l-2.5,-7.9M1092.1,490.1L1084.4,490.4L1083.9,474.4ZM1138.5,524L1084.4,525.4M1107.5,524.8l-4.8,-15.8M1099.8,525l-4.8,-15.8M1115,524.6l-2.4,-7.9M1092.1,525.2L1084.4,525.4L1084,509.4ZM1138.5,555.8L1084.4,554.3M1107.5,555l-4,-16M1099.8,554.7l-4,-16M1115,555.2l-2,-8.1M1092.1,554.5L1084.4,554.3L1084.9,538.3ZM1138.5,590L1084.7,584.8M1107.6,587l-2.8,-16.3M1100,586.3l-2.8,-16.3M1115.1,587.7l-1.4,-8.2M1092.3,585.5L1084.7,584.8L1086.2,568.8ZM1138.5,622.2L1084.9,615.2M1107.8,618.2l-2.3,-16.3M1100.1,617.2l-2.3,-16.3M1115.2,619.2l-1.2,-8.2M1092.5,616.2L1084.9,615.2L1086.9,599.3ZM1138.5,655.2L1086.1,641.8M1108.5,647.5l-0.3,-16.5M1101,645.6l-0.3,-16.5M1093.5,643.7L1086.1,641.8L1090,626.3ZM1138.5,686.7L1087,670.2M1109,677.2l0.7,-16.5M1101.6,674.9l0.7,-16.5M1094.3,672.5L1087,670.2L1091.9,655ZM1138.5,717L1087.3,699.6M1109.2,707l0.9,-16.5M1101.9,704.5l0.9,-16.5M1094.6,702L1087.3,699.6L1092.4,684.4ZM1138.5,747.7L1087.4,730M1109.2,737.6l1,-16.5M1101.9,735l1,-16.5M1116.3,740l0.5,-8.3M1094.7,732.5L1087.4,730L1092.6,714.9ZM1138.5,778.5L1087.4,760.8M1109.2,768.4l1,-16.5M1101.9,765.8l1,-16.5M1094.7,763.3L1087.4,760.8L1092.6,745.7ZM1138.5,808.5L1087.2,791.4M1109.1,798.7l0.8,-16.5M1101.8,796.3l0.8,-16.5M1094.5,793.9L1087.2,791.4L1092.2,776.2ZM1138.5,837.7L1094.5,823M1109.1,827.9l0.8,-16.5M1116.2,830.3l0.4,-8.3M1101.8,825.5L1094.5,823L1099.5,807.8ZM1138.5,867L1094.8,851.5M1109.3,856.6l1.2,-16.5M1102,854.1L1094.8,851.5L1100.1,836.4ZM1138.5,895L1101.5,883.7M1116,888.1l0.2,-8.3M1108.9,885.9L1101.5,883.7L1106.2,868.4ZM1138.5,923.5L1101.3,912.9M1115.9,917.1l0,-8.3M1108.7,915L1101.3,912.9L1105.6,897.5ZM1138.5,952L1101.7,940.1M1109,942.4L1101.7,940.1L1106.6,924.8ZM1138.5,979L1087.5,960.8M1109.3,968.6l1.2,-16.5M1102,966l1.2,-16.5M1094.8,963.4l1.2,-16.5M1087.5,960.8l1.2,-16.5M1116.4,971.1l0.6,-8.3M1138.5,1006.7L1089.2,984.4M1110.2,993.9l2.5,-16.3M1103.2,990.8l2.5,-16.3M1096.2,987.6l2.5,-16.3M1089.2,984.4l2.5,-16.3M1138.5,1034.2L1096.9,1013.7M1110.7,1020.5l3.1,-16.2M1103.8,1017.1l3.1,-16.2M1096.9,1013.7l3.1,-16.2M1117.4,1023.8l1.5,-8.2M1138.5,1059.6L1099.6,1034.3M1112.5,1042.7l5,-15.7M1106,1038.5l5,-15.7M1099.6,1034.3l5,-15.7M1118.8,1046.8l2.5,-7.9M1138.5,1079.2L1103.5,1048.8M1115.1,1058.9l7.1,-14.9M1109.3,1053.8l7.1,-14.9M1103.5,1048.8l7.1,-14.9M1120.8,1063.8l3.6,-7.5M1138.5,1093.5L1105.7,1060.7M1116.6,1071.6l8.1,-14.4M1111.1,1066.1l8.1,-14.4M1105.7,1060.7l8.1,-14.4M1121.9,1076.9l4.1,-7.2M1138.5,1106.7L1105.7,1073.9M1116.6,1084.8l8.1,-14.4M1111.1,1079.3l8.1,-14.4M1105.7,1073.9l8.1,-14.4M1121.9,1090.1l4.1,-7.2M1138.5,1118.3L1105.1,1086.1M1116.2,1096.8l7.9,-14.5M1110.7,1091.4l7.9,-14.5M1105.1,1086.1l7.9,-14.5M1121.6,1102l4,-7.3M1138.5,1130.4L1104.6,1098.8M1115.8,1109.3l7.6,-14.6M1110.2,1104l7.6,-14.6M1104.6,1098.8l7.6,-14.6M1121.3,1114.4l3.8,-7.4M1138.5,1141.7L1104.6,1110.1M1115.8,1120.6l7.6,-14.6M1110.2,1115.3l7.6,-14.6M1104.6,1110.1l7.6,-14.6M1121.3,1125.7l3.8,-7.4M1138.5,1149.2L1104.6,1117.6M1115.8,1128.1l7.6,-14.6M1110.2,1122.8l7.6,-14.6M1104.6,1117.6l7.6,-14.6M1121.3,1133.2l3.8,-7.4M1138.5,1156.2L1104,1125.2M1115.5,1135.5l7.4,-14.8M1109.7,1130.4l7.4,-14.8M1104,1125.2l7.4,-14.8M1138.5,1162.5L1104,1131.5M1115.5,1141.8l7.4,-14.8M1109.7,1136.6l7.4,-14.8M1104,1131.5l7.4,-14.8M1138.5,1167.5L1108.9,1142.6M1114.8,1147.6l6.8,-15M1108.9,1142.6l6.8,-15M1120.5,1152.4l3.4,-7.6M1138.5,1170.8L1114.1,1151.7M1114.1,1151.7l6.3,-15.2M1120,1156.3l3.2,-7.7M1138.5,1172.5L1114.1,1153.4M1114.1,1153.4l6.3,-15.2" fill="none" stroke="#000" stroke-width="2" stroke-linejoin="miter" shape-rendering="crispEdges"/>
<line x1="1138.5" y1="186" x2="1138.5" y2="1185" stroke="#000" stroke-width="1" shape-rendering="crispEdges"/>
</svg></body></html>
